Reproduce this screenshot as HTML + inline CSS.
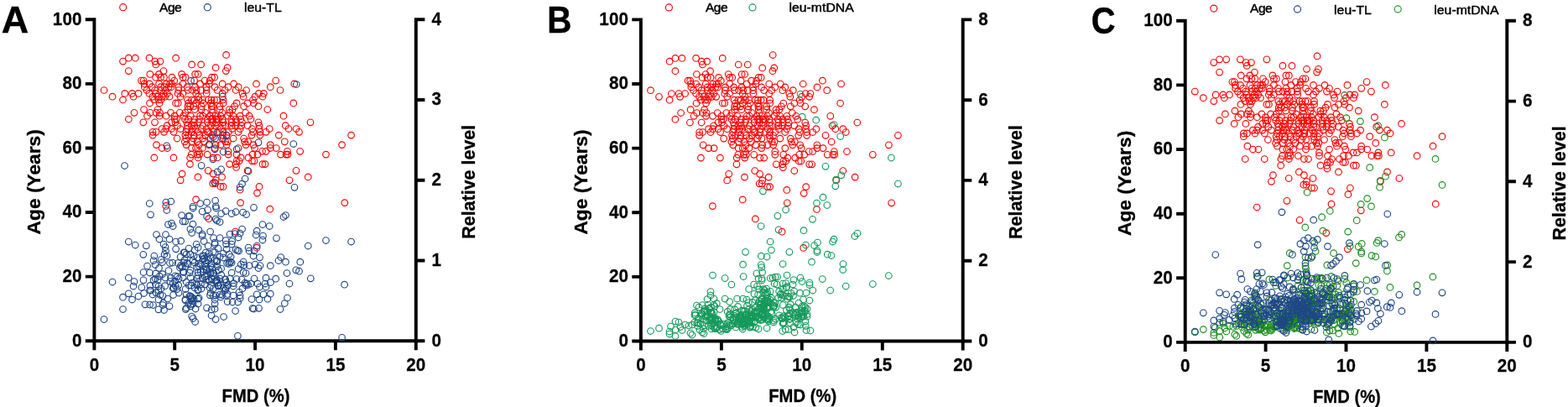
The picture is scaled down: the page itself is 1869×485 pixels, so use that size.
<!DOCTYPE html>
<html lang="en"><head><meta charset="utf-8"><title>Figure</title>
<style>html,body{margin:0;padding:0;background:#fff}body{width:1869px;height:485px;overflow:hidden}svg{display:block}text{font-family:"Liberation Sans",sans-serif;fill:#000}.t{font-size:22.5px;font-weight:bold;stroke:#000;stroke-width:.25px}.ax{font-size:22px;font-weight:bold;stroke:#000;stroke-width:.3px}.lg{font-size:15.5px;stroke:#000;stroke-width:.45px}.pl{font-size:42px;font-weight:bold;stroke:#000;stroke-width:.4px}.l{stroke:#000;stroke-width:3.9;fill:none;stroke-linecap:butt}circle{fill:none;stroke-width:1.15}.r{stroke:#ff0000}.u{stroke:#1f4788}.g{stroke:#159a5c}.h{stroke:#1d8f1f}</style></head><body>
<svg width="1869" height="485" viewBox="0 0 1869 485">
<rect width="1869" height="485" fill="#fff"/>
<g>
<path class="l" d="M112.4 21.3V417.2M101.8 406.2H506.4M495.8 21.3V417.2M101.8 329.6H112.4M101.8 253H112.4M101.8 176.5H112.4M101.8 99.9H112.4M101.8 23.3H112.4M495.8 310.5H506.4M495.8 214.8H506.4M495.8 119H506.4M495.8 23.3H506.4M208.2 406.2V417.2M304.1 406.2V417.2M399.9 406.2V417.2"/>
<circle class="r" cx="269.6" cy="65.4" r="3.8"/><circle class="r" cx="153.3" cy="69.2" r="3.8"/><circle class="r" cx="161.3" cy="69.2" r="3.8"/><circle class="r" cx="178" cy="69.2" r="3.8"/><circle class="r" cx="209.6" cy="69.2" r="3.8"/><circle class="r" cx="146.5" cy="73.1" r="3.8"/><circle class="r" cx="184.8" cy="73.1" r="3.8"/><circle class="r" cx="191" cy="73.1" r="3.8"/><circle class="r" cx="185.8" cy="76.9" r="3.8"/><circle class="r" cx="228.6" cy="76.9" r="3.8"/><circle class="r" cx="239.6" cy="76.9" r="3.8"/><circle class="r" cx="257.1" cy="80.7" r="3.8"/><circle class="r" cx="271.1" cy="80.7" r="3.8"/><circle class="r" cx="153.3" cy="84.6" r="3.8"/><circle class="r" cx="195" cy="84.6" r="3.8"/><circle class="r" cx="269.3" cy="84.6" r="3.8"/><circle class="r" cx="178.8" cy="88.4" r="3.8"/><circle class="r" cx="189.5" cy="88.4" r="3.8"/><circle class="r" cx="216.6" cy="88.4" r="3.8"/><circle class="r" cx="232.6" cy="88.4" r="3.8"/><circle class="r" cx="236.1" cy="88.4" r="3.8"/><circle class="r" cx="185.5" cy="92.2" r="3.8"/><circle class="r" cx="191.5" cy="92.2" r="3.8"/><circle class="r" cx="195.5" cy="92.2" r="3.8"/><circle class="r" cx="205" cy="92.2" r="3.8"/><circle class="r" cx="218.1" cy="92.2" r="3.8"/><circle class="r" cx="221.1" cy="92.2" r="3.8"/><circle class="r" cx="252.6" cy="92.2" r="3.8"/><circle class="r" cx="255.6" cy="92.2" r="3.8"/><circle class="r" cx="168.5" cy="96.1" r="3.8"/><circle class="r" cx="171" cy="96.1" r="3.8"/><circle class="r" cx="207.7" cy="96.1" r="3.8"/><circle class="r" cx="231.6" cy="96.1" r="3.8"/><circle class="r" cx="244.1" cy="96.1" r="3.8"/><circle class="r" cx="250.1" cy="96.1" r="3.8"/><circle class="r" cx="328.7" cy="96.1" r="3.8"/><circle class="r" cx="172" cy="99.9" r="3.8"/><circle class="r" cx="178.2" cy="99.9" r="3.8"/><circle class="r" cx="189.6" cy="99.9" r="3.8"/><circle class="r" cx="198.4" cy="99.9" r="3.8"/><circle class="r" cx="202.5" cy="99.9" r="3.8"/><circle class="r" cx="204.7" cy="99.9" r="3.8"/><circle class="r" cx="218.1" cy="99.9" r="3.8"/><circle class="r" cx="238.5" cy="99.9" r="3.8"/><circle class="r" cx="249.2" cy="99.9" r="3.8"/><circle class="r" cx="265.1" cy="99.9" r="3.8"/><circle class="r" cx="278.6" cy="99.9" r="3.8"/><circle class="r" cx="305.5" cy="99.9" r="3.8"/><circle class="r" cx="350.8" cy="99.9" r="3.8"/><circle class="r" cx="172.3" cy="103.7" r="3.8"/><circle class="r" cx="181.2" cy="103.7" r="3.8"/><circle class="r" cx="191.6" cy="103.7" r="3.8"/><circle class="r" cx="195.9" cy="103.7" r="3.8"/><circle class="r" cx="201.1" cy="103.7" r="3.8"/><circle class="r" cx="204" cy="103.7" r="3.8"/><circle class="r" cx="213.1" cy="103.7" r="3.8"/><circle class="r" cx="223.1" cy="103.7" r="3.8"/><circle class="r" cx="232.5" cy="103.7" r="3.8"/><circle class="r" cx="246" cy="103.7" r="3.8"/><circle class="r" cx="256.1" cy="103.7" r="3.8"/><circle class="r" cx="272.1" cy="103.7" r="3.8"/><circle class="r" cx="284.1" cy="103.7" r="3.8"/><circle class="r" cx="322.3" cy="103.7" r="3.8"/><circle class="r" cx="124" cy="107.5" r="3.8"/><circle class="r" cx="175" cy="107.5" r="3.8"/><circle class="r" cx="184.5" cy="107.5" r="3.8"/><circle class="r" cx="192.2" cy="107.5" r="3.8"/><circle class="r" cx="197.1" cy="107.5" r="3.8"/><circle class="r" cx="212.8" cy="107.5" r="3.8"/><circle class="r" cx="224.1" cy="107.5" r="3.8"/><circle class="r" cx="229.1" cy="107.5" r="3.8"/><circle class="r" cx="234.1" cy="107.5" r="3.8"/><circle class="r" cx="239.6" cy="107.5" r="3.8"/><circle class="r" cx="246.1" cy="107.5" r="3.8"/><circle class="r" cx="259.1" cy="107.5" r="3.8"/><circle class="r" cx="268.1" cy="107.5" r="3.8"/><circle class="r" cx="281.1" cy="107.5" r="3.8"/><circle class="r" cx="293.6" cy="107.5" r="3.8"/><circle class="r" cx="334" cy="107.5" r="3.8"/><circle class="r" cx="148.8" cy="111.4" r="3.8"/><circle class="r" cx="157.5" cy="111.4" r="3.8"/><circle class="r" cx="165" cy="111.4" r="3.8"/><circle class="r" cx="178" cy="111.4" r="3.8"/><circle class="r" cx="185.6" cy="111.4" r="3.8"/><circle class="r" cx="194.9" cy="111.4" r="3.8"/><circle class="r" cx="199.3" cy="111.4" r="3.8"/><circle class="r" cx="212.1" cy="111.4" r="3.8"/><circle class="r" cx="217.9" cy="111.4" r="3.8"/><circle class="r" cx="233.6" cy="111.4" r="3.8"/><circle class="r" cx="246.2" cy="111.4" r="3.8"/><circle class="r" cx="265.1" cy="111.4" r="3.8"/><circle class="r" cx="289.1" cy="111.4" r="3.8"/><circle class="r" cx="308.5" cy="111.4" r="3.8"/><circle class="r" cx="314.3" cy="111.4" r="3.8"/><circle class="r" cx="134" cy="115.2" r="3.8"/><circle class="r" cx="159" cy="115.2" r="3.8"/><circle class="r" cx="182" cy="115.2" r="3.8"/><circle class="r" cx="187.7" cy="115.2" r="3.8"/><circle class="r" cx="193.3" cy="115.2" r="3.8"/><circle class="r" cx="196.7" cy="115.2" r="3.8"/><circle class="r" cx="202" cy="115.2" r="3.8"/><circle class="r" cx="215.1" cy="115.2" r="3.8"/><circle class="r" cx="236.4" cy="115.2" r="3.8"/><circle class="r" cx="290.1" cy="115.2" r="3.8"/><circle class="r" cx="304" cy="115.2" r="3.8"/><circle class="r" cx="313" cy="115.2" r="3.8"/><circle class="r" cx="146.5" cy="119" r="3.8"/><circle class="r" cx="183.7" cy="119" r="3.8"/><circle class="r" cx="189" cy="119" r="3.8"/><circle class="r" cx="191.9" cy="119" r="3.8"/><circle class="r" cx="223.5" cy="119" r="3.8"/><circle class="r" cx="228.3" cy="119" r="3.8"/><circle class="r" cx="231.8" cy="119" r="3.8"/><circle class="r" cx="236.9" cy="119" r="3.8"/><circle class="r" cx="241.2" cy="119" r="3.8"/><circle class="r" cx="248.6" cy="119" r="3.8"/><circle class="r" cx="251.9" cy="119" r="3.8"/><circle class="r" cx="255.5" cy="119" r="3.8"/><circle class="r" cx="258.4" cy="119" r="3.8"/><circle class="r" cx="266.1" cy="119" r="3.8"/><circle class="r" cx="301.5" cy="119" r="3.8"/><circle class="r" cx="178.5" cy="122.9" r="3.8"/><circle class="r" cx="190.1" cy="122.9" r="3.8"/><circle class="r" cx="209.6" cy="122.9" r="3.8"/><circle class="r" cx="212.1" cy="122.9" r="3.8"/><circle class="r" cx="224.7" cy="122.9" r="3.8"/><circle class="r" cx="233.6" cy="122.9" r="3.8"/><circle class="r" cx="242.3" cy="122.9" r="3.8"/><circle class="r" cx="251.3" cy="122.9" r="3.8"/><circle class="r" cx="266.1" cy="122.9" r="3.8"/><circle class="r" cx="282.1" cy="122.9" r="3.8"/><circle class="r" cx="295.1" cy="122.9" r="3.8"/><circle class="r" cx="302.5" cy="122.9" r="3.8"/><circle class="r" cx="349.8" cy="122.9" r="3.8"/><circle class="r" cx="223.9" cy="126.7" r="3.8"/><circle class="r" cx="226.6" cy="126.7" r="3.8"/><circle class="r" cx="230.9" cy="126.7" r="3.8"/><circle class="r" cx="240.2" cy="126.7" r="3.8"/><circle class="r" cx="252.1" cy="126.7" r="3.8"/><circle class="r" cx="253.6" cy="126.7" r="3.8"/><circle class="r" cx="262.1" cy="126.7" r="3.8"/><circle class="r" cx="279.6" cy="126.7" r="3.8"/><circle class="r" cx="290.6" cy="126.7" r="3.8"/><circle class="r" cx="308" cy="126.7" r="3.8"/><circle class="r" cx="171.5" cy="130.5" r="3.8"/><circle class="r" cx="188" cy="130.5" r="3.8"/><circle class="r" cx="224" cy="130.5" r="3.8"/><circle class="r" cx="232.2" cy="130.5" r="3.8"/><circle class="r" cx="240.1" cy="130.5" r="3.8"/><circle class="r" cx="252.6" cy="130.5" r="3.8"/><circle class="r" cx="262.1" cy="130.5" r="3.8"/><circle class="r" cx="273.4" cy="130.5" r="3.8"/><circle class="r" cx="277.1" cy="130.5" r="3.8"/><circle class="r" cx="318.8" cy="130.5" r="3.8"/><circle class="r" cx="160" cy="134.3" r="3.8"/><circle class="r" cx="179" cy="134.3" r="3.8"/><circle class="r" cx="186" cy="134.3" r="3.8"/><circle class="r" cx="190.5" cy="134.3" r="3.8"/><circle class="r" cx="203.5" cy="134.3" r="3.8"/><circle class="r" cx="214.3" cy="134.3" r="3.8"/><circle class="r" cx="220.7" cy="134.3" r="3.8"/><circle class="r" cx="244.6" cy="134.3" r="3.8"/><circle class="r" cx="253.6" cy="134.3" r="3.8"/><circle class="r" cx="264.8" cy="134.3" r="3.8"/><circle class="r" cx="273.9" cy="134.3" r="3.8"/><circle class="r" cx="292.6" cy="134.3" r="3.8"/><circle class="r" cx="175.5" cy="138.2" r="3.8"/><circle class="r" cx="190" cy="138.2" r="3.8"/><circle class="r" cx="198" cy="138.2" r="3.8"/><circle class="r" cx="208.1" cy="138.2" r="3.8"/><circle class="r" cx="218.7" cy="138.2" r="3.8"/><circle class="r" cx="227.2" cy="138.2" r="3.8"/><circle class="r" cx="238.6" cy="138.2" r="3.8"/><circle class="r" cx="241.8" cy="138.2" r="3.8"/><circle class="r" cx="250" cy="138.2" r="3.8"/><circle class="r" cx="256.8" cy="138.2" r="3.8"/><circle class="r" cx="263" cy="138.2" r="3.8"/><circle class="r" cx="271.4" cy="138.2" r="3.8"/><circle class="r" cx="277.9" cy="138.2" r="3.8"/><circle class="r" cx="286.1" cy="138.2" r="3.8"/><circle class="r" cx="297.1" cy="138.2" r="3.8"/><circle class="r" cx="338" cy="138.2" r="3.8"/><circle class="r" cx="153.3" cy="142" r="3.8"/><circle class="r" cx="208.2" cy="142" r="3.8"/><circle class="r" cx="210.6" cy="142" r="3.8"/><circle class="r" cx="220.4" cy="142" r="3.8"/><circle class="r" cx="224.6" cy="142" r="3.8"/><circle class="r" cx="231.8" cy="142" r="3.8"/><circle class="r" cx="237.5" cy="142" r="3.8"/><circle class="r" cx="247.3" cy="142" r="3.8"/><circle class="r" cx="251.6" cy="142" r="3.8"/><circle class="r" cx="253.1" cy="142" r="3.8"/><circle class="r" cx="257.7" cy="142" r="3.8"/><circle class="r" cx="258.5" cy="142" r="3.8"/><circle class="r" cx="260.7" cy="142" r="3.8"/><circle class="r" cx="265.4" cy="142" r="3.8"/><circle class="r" cx="275.6" cy="142" r="3.8"/><circle class="r" cx="281.1" cy="142" r="3.8"/><circle class="r" cx="286.8" cy="142" r="3.8"/><circle class="r" cx="299" cy="142" r="3.8"/><circle class="r" cx="170.8" cy="145.8" r="3.8"/><circle class="r" cx="184.5" cy="145.8" r="3.8"/><circle class="r" cx="204.4" cy="145.8" r="3.8"/><circle class="r" cx="209" cy="145.8" r="3.8"/><circle class="r" cx="222.6" cy="145.8" r="3.8"/><circle class="r" cx="231.2" cy="145.8" r="3.8"/><circle class="r" cx="236.5" cy="145.8" r="3.8"/><circle class="r" cx="247.5" cy="145.8" r="3.8"/><circle class="r" cx="253.3" cy="145.8" r="3.8"/><circle class="r" cx="257.7" cy="145.8" r="3.8"/><circle class="r" cx="266" cy="145.8" r="3.8"/><circle class="r" cx="276.2" cy="145.8" r="3.8"/><circle class="r" cx="281.6" cy="145.8" r="3.8"/><circle class="r" cx="288.4" cy="145.8" r="3.8"/><circle class="r" cx="308" cy="145.8" r="3.8"/><circle class="r" cx="370" cy="145.8" r="3.8"/><circle class="r" cx="199.2" cy="149.7" r="3.8"/><circle class="r" cx="211.4" cy="149.7" r="3.8"/><circle class="r" cx="223.5" cy="149.7" r="3.8"/><circle class="r" cx="228.1" cy="149.7" r="3.8"/><circle class="r" cx="231.8" cy="149.7" r="3.8"/><circle class="r" cx="241.8" cy="149.7" r="3.8"/><circle class="r" cx="251.2" cy="149.7" r="3.8"/><circle class="r" cx="256.4" cy="149.7" r="3.8"/><circle class="r" cx="265.6" cy="149.7" r="3.8"/><circle class="r" cx="268.2" cy="149.7" r="3.8"/><circle class="r" cx="276.2" cy="149.7" r="3.8"/><circle class="r" cx="280.5" cy="149.7" r="3.8"/><circle class="r" cx="287.8" cy="149.7" r="3.8"/><circle class="r" cx="295.1" cy="149.7" r="3.8"/><circle class="r" cx="309" cy="149.7" r="3.8"/><circle class="r" cx="340.3" cy="149.7" r="3.8"/><circle class="r" cx="193" cy="153.5" r="3.8"/><circle class="r" cx="198" cy="153.5" r="3.8"/><circle class="r" cx="204.3" cy="153.5" r="3.8"/><circle class="r" cx="215" cy="153.5" r="3.8"/><circle class="r" cx="223.4" cy="153.5" r="3.8"/><circle class="r" cx="229.5" cy="153.5" r="3.8"/><circle class="r" cx="232.7" cy="153.5" r="3.8"/><circle class="r" cx="240.5" cy="153.5" r="3.8"/><circle class="r" cx="246" cy="153.5" r="3.8"/><circle class="r" cx="254.6" cy="153.5" r="3.8"/><circle class="r" cx="263.6" cy="153.5" r="3.8"/><circle class="r" cx="276.7" cy="153.5" r="3.8"/><circle class="r" cx="286.1" cy="153.5" r="3.8"/><circle class="r" cx="300.5" cy="153.5" r="3.8"/><circle class="r" cx="308.8" cy="153.5" r="3.8"/><circle class="r" cx="321.2" cy="153.5" r="3.8"/><circle class="r" cx="344" cy="153.5" r="3.8"/><circle class="r" cx="353" cy="153.5" r="3.8"/><circle class="r" cx="182" cy="157.3" r="3.8"/><circle class="r" cx="186" cy="157.3" r="3.8"/><circle class="r" cx="195.5" cy="157.3" r="3.8"/><circle class="r" cx="207.1" cy="157.3" r="3.8"/><circle class="r" cx="222" cy="157.3" r="3.8"/><circle class="r" cx="228.2" cy="157.3" r="3.8"/><circle class="r" cx="236.1" cy="157.3" r="3.8"/><circle class="r" cx="247.1" cy="157.3" r="3.8"/><circle class="r" cx="248.8" cy="157.3" r="3.8"/><circle class="r" cx="254.4" cy="157.3" r="3.8"/><circle class="r" cx="260.9" cy="157.3" r="3.8"/><circle class="r" cx="266" cy="157.3" r="3.8"/><circle class="r" cx="272.2" cy="157.3" r="3.8"/><circle class="r" cx="284" cy="157.3" r="3.8"/><circle class="r" cx="301.6" cy="157.3" r="3.8"/><circle class="r" cx="310" cy="157.3" r="3.8"/><circle class="r" cx="317" cy="157.3" r="3.8"/><circle class="r" cx="356.5" cy="157.3" r="3.8"/><circle class="r" cx="182" cy="161.1" r="3.8"/><circle class="r" cx="220.9" cy="161.1" r="3.8"/><circle class="r" cx="224.9" cy="161.1" r="3.8"/><circle class="r" cx="231.2" cy="161.1" r="3.8"/><circle class="r" cx="237.9" cy="161.1" r="3.8"/><circle class="r" cx="244.6" cy="161.1" r="3.8"/><circle class="r" cx="252.8" cy="161.1" r="3.8"/><circle class="r" cx="265.3" cy="161.1" r="3.8"/><circle class="r" cx="270" cy="161.1" r="3.8"/><circle class="r" cx="300" cy="161.1" r="3.8"/><circle class="r" cx="310" cy="161.1" r="3.8"/><circle class="r" cx="332.3" cy="161.1" r="3.8"/><circle class="r" cx="418.6" cy="161.1" r="3.8"/><circle class="r" cx="211.1" cy="165" r="3.8"/><circle class="r" cx="221.7" cy="165" r="3.8"/><circle class="r" cx="230.5" cy="165" r="3.8"/><circle class="r" cx="241.7" cy="165" r="3.8"/><circle class="r" cx="251.1" cy="165" r="3.8"/><circle class="r" cx="256.4" cy="165" r="3.8"/><circle class="r" cx="266.2" cy="165" r="3.8"/><circle class="r" cx="278.1" cy="165" r="3.8"/><circle class="r" cx="290.6" cy="165" r="3.8"/><circle class="r" cx="220.3" cy="168.8" r="3.8"/><circle class="r" cx="229" cy="168.8" r="3.8"/><circle class="r" cx="235" cy="168.8" r="3.8"/><circle class="r" cx="243.6" cy="168.8" r="3.8"/><circle class="r" cx="268.6" cy="168.8" r="3.8"/><circle class="r" cx="271.4" cy="168.8" r="3.8"/><circle class="r" cx="291.6" cy="168.8" r="3.8"/><circle class="r" cx="295.6" cy="168.8" r="3.8"/><circle class="r" cx="339.3" cy="168.8" r="3.8"/><circle class="r" cx="186.5" cy="172.6" r="3.8"/><circle class="r" cx="222.1" cy="172.6" r="3.8"/><circle class="r" cx="237.2" cy="172.6" r="3.8"/><circle class="r" cx="249.1" cy="172.6" r="3.8"/><circle class="r" cx="257.1" cy="172.6" r="3.8"/><circle class="r" cx="263" cy="172.6" r="3.8"/><circle class="r" cx="270.1" cy="172.6" r="3.8"/><circle class="r" cx="293.1" cy="172.6" r="3.8"/><circle class="r" cx="302" cy="172.6" r="3.8"/><circle class="r" cx="322.2" cy="172.6" r="3.8"/><circle class="r" cx="407.6" cy="172.6" r="3.8"/><circle class="r" cx="193" cy="176.5" r="3.8"/><circle class="r" cx="199.5" cy="176.5" r="3.8"/><circle class="r" cx="228.5" cy="176.5" r="3.8"/><circle class="r" cx="233.5" cy="176.5" r="3.8"/><circle class="r" cx="241.3" cy="176.5" r="3.8"/><circle class="r" cx="256.1" cy="176.5" r="3.8"/><circle class="r" cx="284.1" cy="176.5" r="3.8"/><circle class="r" cx="303.5" cy="176.5" r="3.8"/><circle class="r" cx="322.2" cy="176.5" r="3.8"/><circle class="r" cx="329.3" cy="176.5" r="3.8"/><circle class="r" cx="236.9" cy="180.3" r="3.8"/><circle class="r" cx="272.1" cy="180.3" r="3.8"/><circle class="r" cx="312.5" cy="180.3" r="3.8"/><circle class="r" cx="317" cy="180.3" r="3.8"/><circle class="r" cx="342.5" cy="180.3" r="3.8"/><circle class="r" cx="357.7" cy="180.3" r="3.8"/><circle class="r" cx="228.2" cy="184.1" r="3.8"/><circle class="r" cx="234.9" cy="184.1" r="3.8"/><circle class="r" cx="237.7" cy="184.1" r="3.8"/><circle class="r" cx="247.1" cy="184.1" r="3.8"/><circle class="r" cx="272.1" cy="184.1" r="3.8"/><circle class="r" cx="282.1" cy="184.1" r="3.8"/><circle class="r" cx="301" cy="184.1" r="3.8"/><circle class="r" cx="307" cy="184.1" r="3.8"/><circle class="r" cx="334.5" cy="184.1" r="3.8"/><circle class="r" cx="341" cy="184.1" r="3.8"/><circle class="r" cx="343" cy="184.1" r="3.8"/><circle class="r" cx="388.5" cy="184.1" r="3.8"/><circle class="r" cx="183.8" cy="187.9" r="3.8"/><circle class="r" cx="206.9" cy="187.9" r="3.8"/><circle class="r" cx="226.6" cy="187.9" r="3.8"/><circle class="r" cx="236.1" cy="187.9" r="3.8"/><circle class="r" cx="254.1" cy="187.9" r="3.8"/><circle class="r" cx="259.1" cy="187.9" r="3.8"/><circle class="r" cx="287.1" cy="187.9" r="3.8"/><circle class="r" cx="296.1" cy="187.9" r="3.8"/><circle class="r" cx="282.1" cy="191.8" r="3.8"/><circle class="r" cx="285.1" cy="191.8" r="3.8"/><circle class="r" cx="300.5" cy="191.8" r="3.8"/><circle class="r" cx="303" cy="191.8" r="3.8"/><circle class="r" cx="226.4" cy="195.6" r="3.8"/><circle class="r" cx="273.6" cy="195.6" r="3.8"/><circle class="r" cx="281.1" cy="195.6" r="3.8"/><circle class="r" cx="313" cy="195.6" r="3.8"/><circle class="r" cx="316" cy="195.6" r="3.8"/><circle class="r" cx="281.6" cy="199.4" r="3.8"/><circle class="r" cx="248.1" cy="203.3" r="3.8"/><circle class="r" cx="295.1" cy="203.3" r="3.8"/><circle class="r" cx="353" cy="203.3" r="3.8"/><circle class="r" cx="217.1" cy="207.1" r="3.8"/><circle class="r" cx="254.1" cy="207.1" r="3.8"/><circle class="r" cx="235.9" cy="210.9" r="3.8"/><circle class="r" cx="264.6" cy="210.9" r="3.8"/><circle class="r" cx="367.3" cy="210.9" r="3.8"/><circle class="r" cx="215.1" cy="214.8" r="3.8"/><circle class="r" cx="257.1" cy="214.8" r="3.8"/><circle class="r" cx="345" cy="214.8" r="3.8"/><circle class="r" cx="253.6" cy="218.6" r="3.8"/><circle class="r" cx="256.6" cy="218.6" r="3.8"/><circle class="r" cx="263.1" cy="222.4" r="3.8"/><circle class="r" cx="266.1" cy="222.4" r="3.8"/><circle class="r" cx="309" cy="222.4" r="3.8"/><circle class="r" cx="286.1" cy="226.2" r="3.8"/><circle class="r" cx="306.5" cy="230.1" r="3.8"/><circle class="r" cx="233.6" cy="237.7" r="3.8"/><circle class="r" cx="286.6" cy="241.6" r="3.8"/><circle class="r" cx="410.8" cy="241.6" r="3.8"/><circle class="r" cx="197.8" cy="245.4" r="3.8"/><circle class="r" cx="321.8" cy="249.2" r="3.8"/><circle class="r" cx="248.8" cy="260.7" r="3.8"/><circle class="r" cx="280.4" cy="276" r="3.8"/><circle class="r" cx="306" cy="295.2" r="3.8"/>
<circle class="u" cx="227.6" cy="96.3" r="3.8"/><circle class="u" cx="265.3" cy="115" r="3.8"/><circle class="u" cx="353.3" cy="100.5" r="3.8"/><circle class="u" cx="258.8" cy="157.8" r="3.8"/><circle class="u" cx="269.9" cy="161.3" r="3.8"/><circle class="u" cx="254.1" cy="163.5" r="3.8"/><circle class="u" cx="264.6" cy="165" r="3.8"/><circle class="u" cx="249.6" cy="171.8" r="3.8"/><circle class="u" cx="198.8" cy="173.8" r="3.8"/><circle class="u" cx="308" cy="169.8" r="3.8"/><circle class="u" cx="349.8" cy="171.5" r="3.8"/><circle class="u" cx="148.5" cy="197.5" r="3.8"/><circle class="u" cx="256.1" cy="177.8" r="3.8"/><circle class="u" cx="266.1" cy="181" r="3.8"/><circle class="u" cx="282.1" cy="177.8" r="3.8"/><circle class="u" cx="253.9" cy="189.8" r="3.8"/><circle class="u" cx="240.1" cy="197.3" r="3.8"/><circle class="u" cx="263.6" cy="201.8" r="3.8"/><circle class="u" cx="259.1" cy="204.8" r="3.8"/><circle class="u" cx="296.1" cy="204" r="3.8"/><circle class="u" cx="292.1" cy="213" r="3.8"/><circle class="u" cx="255.6" cy="217.3" r="3.8"/><circle class="u" cx="288.6" cy="219" r="3.8"/><circle class="u" cx="286.1" cy="223" r="3.8"/><circle class="u" cx="178.2" cy="242.5" r="3.8"/><circle class="u" cx="197.8" cy="241" r="3.8"/><circle class="u" cx="203.8" cy="240" r="3.8"/><circle class="u" cx="198.8" cy="250.5" r="3.8"/><circle class="u" cx="230.1" cy="246" r="3.8"/><circle class="u" cx="238.6" cy="242.5" r="3.8"/><circle class="u" cx="246.6" cy="241" r="3.8"/><circle class="u" cx="256.6" cy="239" r="3.8"/><circle class="u" cx="257.3" cy="245.8" r="3.8"/><circle class="u" cx="247.6" cy="250" r="3.8"/><circle class="u" cx="241.1" cy="252" r="3.8"/><circle class="u" cx="351" cy="223.3" r="3.8"/><circle class="u" cx="302.5" cy="247.3" r="3.8"/><circle class="u" cx="179.5" cy="255.8" r="3.8"/><circle class="u" cx="230.1" cy="248" r="3.8"/><circle class="u" cx="257.6" cy="248" r="3.8"/><circle class="u" cx="263.6" cy="254.5" r="3.8"/><circle class="u" cx="269.1" cy="251.5" r="3.8"/><circle class="u" cx="276.1" cy="254.5" r="3.8"/><circle class="u" cx="281.1" cy="252.5" r="3.8"/><circle class="u" cx="289.6" cy="253" r="3.8"/><circle class="u" cx="293.6" cy="255.5" r="3.8"/><circle class="u" cx="216.6" cy="256.5" r="3.8"/><circle class="u" cx="224.6" cy="257.5" r="3.8"/><circle class="u" cx="226.1" cy="257.5" r="3.8"/><circle class="u" cx="246.6" cy="258" r="3.8"/><circle class="u" cx="257.1" cy="261" r="3.8"/><circle class="u" cx="258.6" cy="263" r="3.8"/><circle class="u" cx="262.1" cy="264.5" r="3.8"/><circle class="u" cx="218.1" cy="263.8" r="3.8"/><circle class="u" cx="220.6" cy="263.8" r="3.8"/><circle class="u" cx="229.9" cy="267.2" r="3.8"/><circle class="u" cx="200.5" cy="267.5" r="3.8"/><circle class="u" cx="204.5" cy="266" r="3.8"/><circle class="u" cx="206.1" cy="269.5" r="3.8"/><circle class="u" cx="226.9" cy="273" r="3.8"/><circle class="u" cx="228.6" cy="277.5" r="3.8"/><circle class="u" cx="236.9" cy="274.2" r="3.8"/><circle class="u" cx="241.1" cy="279" r="3.8"/><circle class="u" cx="241.1" cy="281" r="3.8"/><circle class="u" cx="250.6" cy="276" r="3.8"/><circle class="u" cx="288.6" cy="273" r="3.8"/><circle class="u" cx="274.1" cy="279" r="3.8"/><circle class="u" cx="280.1" cy="278.5" r="3.8"/><circle class="u" cx="286.1" cy="278" r="3.8"/><circle class="u" cx="284.1" cy="283" r="3.8"/><circle class="u" cx="186.5" cy="279.5" r="3.8"/><circle class="u" cx="197.5" cy="279.5" r="3.8"/><circle class="u" cx="190" cy="285" r="3.8"/><circle class="u" cx="202" cy="285" r="3.8"/><circle class="u" cx="209.6" cy="288" r="3.8"/><circle class="u" cx="215.6" cy="287.2" r="3.8"/><circle class="u" cx="243.1" cy="287.5" r="3.8"/><circle class="u" cx="254.6" cy="283.5" r="3.8"/><circle class="u" cx="262.1" cy="283.5" r="3.8"/><circle class="u" cx="256.1" cy="289" r="3.8"/><circle class="u" cx="269.1" cy="286.5" r="3.8"/><circle class="u" cx="276.6" cy="287.5" r="3.8"/><circle class="u" cx="338" cy="258.5" r="3.8"/><circle class="u" cx="340.5" cy="256.5" r="3.8"/><circle class="u" cx="313" cy="267.5" r="3.8"/><circle class="u" cx="321.2" cy="269.5" r="3.8"/><circle class="u" cx="306.2" cy="275.2" r="3.8"/><circle class="u" cx="305.2" cy="280" r="3.8"/><circle class="u" cx="313.5" cy="281" r="3.8"/><circle class="u" cx="313" cy="286" r="3.8"/><circle class="u" cx="329.5" cy="283.8" r="3.8"/><circle class="u" cx="388.5" cy="286.5" r="3.8"/><circle class="u" cx="418.6" cy="288" r="3.8"/><circle class="u" cx="153.3" cy="288" r="3.8"/><circle class="u" cx="161.3" cy="292" r="3.8"/><circle class="u" cx="174.3" cy="292.8" r="3.8"/><circle class="u" cx="170.8" cy="303.3" r="3.8"/><circle class="u" cx="175.5" cy="317" r="3.8"/><circle class="u" cx="171" cy="324.5" r="3.8"/><circle class="u" cx="178.5" cy="325" r="3.8"/><circle class="u" cx="153.3" cy="331" r="3.8"/><circle class="u" cx="183.8" cy="305" r="3.8"/><circle class="u" cx="183" cy="310.5" r="3.8"/><circle class="u" cx="185" cy="315.5" r="3.8"/><circle class="u" cx="189.5" cy="319.5" r="3.8"/><circle class="u" cx="185.5" cy="326" r="3.8"/><circle class="u" cx="195" cy="291" r="3.8"/><circle class="u" cx="197" cy="294.5" r="3.8"/><circle class="u" cx="197.5" cy="299" r="3.8"/><circle class="u" cx="196" cy="303" r="3.8"/><circle class="u" cx="199" cy="305" r="3.8"/><circle class="u" cx="192" cy="309.5" r="3.8"/><circle class="u" cx="193.5" cy="312.5" r="3.8"/><circle class="u" cx="209.6" cy="296.8" r="3.8"/><circle class="u" cx="202.5" cy="313.5" r="3.8"/><circle class="u" cx="205.6" cy="313" r="3.8"/><circle class="u" cx="201" cy="322.5" r="3.8"/><circle class="u" cx="234.1" cy="291" r="3.8"/><circle class="u" cx="248.1" cy="293" r="3.8"/><circle class="u" cx="256.1" cy="291" r="3.8"/><circle class="u" cx="269.6" cy="291" r="3.8"/><circle class="u" cx="276.1" cy="291" r="3.8"/><circle class="u" cx="225.1" cy="296" r="3.8"/><circle class="u" cx="232.1" cy="298" r="3.8"/><circle class="u" cx="236.1" cy="295" r="3.8"/><circle class="u" cx="260.1" cy="296" r="3.8"/><circle class="u" cx="270.1" cy="297" r="3.8"/><circle class="u" cx="281.1" cy="297.5" r="3.8"/><circle class="u" cx="283.1" cy="298.5" r="3.8"/><circle class="u" cx="284.6" cy="299" r="3.8"/><circle class="u" cx="296.1" cy="295" r="3.8"/><circle class="u" cx="297.1" cy="299" r="3.8"/><circle class="u" cx="220.1" cy="301" r="3.8"/><circle class="u" cx="222.1" cy="303" r="3.8"/><circle class="u" cx="245.1" cy="301" r="3.8"/><circle class="u" cx="249.1" cy="302" r="3.8"/><circle class="u" cx="254.1" cy="300" r="3.8"/><circle class="u" cx="266.1" cy="302" r="3.8"/><circle class="u" cx="273.1" cy="303" r="3.8"/><circle class="u" cx="215.1" cy="306" r="3.8"/><circle class="u" cx="231.1" cy="305" r="3.8"/><circle class="u" cx="235.1" cy="307" r="3.8"/><circle class="u" cx="241.1" cy="305" r="3.8"/><circle class="u" cx="247.1" cy="306" r="3.8"/><circle class="u" cx="262.1" cy="306" r="3.8"/><circle class="u" cx="266.1" cy="307" r="3.8"/><circle class="u" cx="275.1" cy="306" r="3.8"/><circle class="u" cx="220.1" cy="309.5" r="3.8"/><circle class="u" cx="230.1" cy="310" r="3.8"/><circle class="u" cx="242.1" cy="309" r="3.8"/><circle class="u" cx="248.1" cy="310.5" r="3.8"/><circle class="u" cx="256.1" cy="309.5" r="3.8"/><circle class="u" cx="212.1" cy="313.5" r="3.8"/><circle class="u" cx="219.1" cy="313" r="3.8"/><circle class="u" cx="224.1" cy="314.5" r="3.8"/><circle class="u" cx="232.1" cy="313" r="3.8"/><circle class="u" cx="237.1" cy="314" r="3.8"/><circle class="u" cx="246.1" cy="313" r="3.8"/><circle class="u" cx="252.1" cy="314" r="3.8"/><circle class="u" cx="273.1" cy="312.5" r="3.8"/><circle class="u" cx="276.1" cy="313" r="3.8"/><circle class="u" cx="290.1" cy="312" r="3.8"/><circle class="u" cx="221.1" cy="317.5" r="3.8"/><circle class="u" cx="237.1" cy="317" r="3.8"/><circle class="u" cx="245.1" cy="318" r="3.8"/><circle class="u" cx="251.1" cy="317" r="3.8"/><circle class="u" cx="291.1" cy="316" r="3.8"/><circle class="u" cx="297.1" cy="316.5" r="3.8"/><circle class="u" cx="246.1" cy="320.5" r="3.8"/><circle class="u" cx="250.1" cy="321" r="3.8"/><circle class="u" cx="263.6" cy="320" r="3.8"/><circle class="u" cx="284.1" cy="320.5" r="3.8"/><circle class="u" cx="218.1" cy="324" r="3.8"/><circle class="u" cx="226.1" cy="325" r="3.8"/><circle class="u" cx="236.1" cy="324.5" r="3.8"/><circle class="u" cx="242.1" cy="324" r="3.8"/><circle class="u" cx="251.1" cy="324.5" r="3.8"/><circle class="u" cx="276.1" cy="325" r="3.8"/><circle class="u" cx="290.1" cy="324.5" r="3.8"/><circle class="u" cx="293.1" cy="325.5" r="3.8"/><circle class="u" cx="367.3" cy="293" r="3.8"/><circle class="u" cx="306.2" cy="293" r="3.8"/><circle class="u" cx="303" cy="299" r="3.8"/><circle class="u" cx="302" cy="305" r="3.8"/><circle class="u" cx="309.5" cy="306.8" r="3.8"/><circle class="u" cx="334.8" cy="306.5" r="3.8"/><circle class="u" cx="332" cy="310.5" r="3.8"/><circle class="u" cx="340.5" cy="312.2" r="3.8"/><circle class="u" cx="357.8" cy="312.2" r="3.8"/><circle class="u" cx="304" cy="315" r="3.8"/><circle class="u" cx="310" cy="316.5" r="3.8"/><circle class="u" cx="308" cy="319.5" r="3.8"/><circle class="u" cx="322.3" cy="316.7" r="3.8"/><circle class="u" cx="352.8" cy="321.8" r="3.8"/><circle class="u" cx="356.5" cy="323.2" r="3.8"/><circle class="u" cx="342" cy="325.5" r="3.8"/><circle class="u" cx="134" cy="336" r="3.8"/><circle class="u" cx="160" cy="335.5" r="3.8"/><circle class="u" cx="171" cy="333.8" r="3.8"/><circle class="u" cx="159" cy="341" r="3.8"/><circle class="u" cx="168.8" cy="342.5" r="3.8"/><circle class="u" cx="153.3" cy="349.8" r="3.8"/><circle class="u" cx="146.5" cy="354.2" r="3.8"/><circle class="u" cx="157.5" cy="357" r="3.8"/><circle class="u" cx="165" cy="353" r="3.8"/><circle class="u" cx="171.5" cy="349.5" r="3.8"/><circle class="u" cx="178.5" cy="346" r="3.8"/><circle class="u" cx="182" cy="351" r="3.8"/><circle class="u" cx="146.5" cy="368.5" r="3.8"/><circle class="u" cx="173" cy="362.8" r="3.8"/><circle class="u" cx="178.5" cy="363" r="3.8"/><circle class="u" cx="182.5" cy="363.5" r="3.8"/><circle class="u" cx="189" cy="368.8" r="3.8"/><circle class="u" cx="195.5" cy="369.5" r="3.8"/><circle class="u" cx="202" cy="364.8" r="3.8"/><circle class="u" cx="200" cy="356" r="3.8"/><circle class="u" cx="206.6" cy="351.5" r="3.8"/><circle class="u" cx="213.1" cy="349" r="3.8"/><circle class="u" cx="185" cy="332" r="3.8"/><circle class="u" cx="185.5" cy="339" r="3.8"/><circle class="u" cx="189" cy="341" r="3.8"/><circle class="u" cx="192" cy="344" r="3.8"/><circle class="u" cx="189" cy="346" r="3.8"/><circle class="u" cx="191" cy="351.5" r="3.8"/><circle class="u" cx="194" cy="352.5" r="3.8"/><circle class="u" cx="189" cy="357" r="3.8"/><circle class="u" cx="194.5" cy="361" r="3.8"/><circle class="u" cx="194" cy="363.5" r="3.8"/><circle class="u" cx="197" cy="331" r="3.8"/><circle class="u" cx="203" cy="335.5" r="3.8"/><circle class="u" cx="206.1" cy="338" r="3.8"/><circle class="u" cx="208.6" cy="335" r="3.8"/><circle class="u" cx="207.1" cy="343" r="3.8"/><circle class="u" cx="211.1" cy="344.5" r="3.8"/><circle class="u" cx="221.1" cy="344.5" r="3.8"/><circle class="u" cx="222.1" cy="336" r="3.8"/><circle class="u" cx="225.1" cy="340" r="3.8"/><circle class="u" cx="229.1" cy="337" r="3.8"/><circle class="u" cx="232.1" cy="343" r="3.8"/><circle class="u" cx="236.1" cy="345" r="3.8"/><circle class="u" cx="240.1" cy="344" r="3.8"/><circle class="u" cx="222.1" cy="351" r="3.8"/><circle class="u" cx="227.1" cy="353" r="3.8"/><circle class="u" cx="231.1" cy="356" r="3.8"/><circle class="u" cx="237.1" cy="355" r="3.8"/><circle class="u" cx="221.1" cy="358" r="3.8"/><circle class="u" cx="225.1" cy="361" r="3.8"/><circle class="u" cx="230.1" cy="362" r="3.8"/><circle class="u" cx="236.1" cy="362" r="3.8"/><circle class="u" cx="222.1" cy="367" r="3.8"/><circle class="u" cx="227.1" cy="365" r="3.8"/><circle class="u" cx="233.1" cy="368" r="3.8"/><circle class="u" cx="244.1" cy="339" r="3.8"/><circle class="u" cx="248.1" cy="333" r="3.8"/><circle class="u" cx="252.1" cy="332" r="3.8"/><circle class="u" cx="257.1" cy="335" r="3.8"/><circle class="u" cx="250.1" cy="343" r="3.8"/><circle class="u" cx="254.1" cy="344" r="3.8"/><circle class="u" cx="251.1" cy="349" r="3.8"/><circle class="u" cx="254.1" cy="352.5" r="3.8"/><circle class="u" cx="257.1" cy="352" r="3.8"/><circle class="u" cx="256.1" cy="357" r="3.8"/><circle class="u" cx="256.1" cy="362" r="3.8"/><circle class="u" cx="252.1" cy="369" r="3.8"/><circle class="u" cx="256.1" cy="368" r="3.8"/><circle class="u" cx="263.1" cy="340" r="3.8"/><circle class="u" cx="266.1" cy="343" r="3.8"/><circle class="u" cx="269.1" cy="344" r="3.8"/><circle class="u" cx="262.1" cy="351" r="3.8"/><circle class="u" cx="270.6" cy="352.5" r="3.8"/><circle class="u" cx="271.1" cy="359.5" r="3.8"/><circle class="u" cx="278.1" cy="341" r="3.8"/><circle class="u" cx="278.1" cy="352" r="3.8"/><circle class="u" cx="285.1" cy="348" r="3.8"/><circle class="u" cx="286.1" cy="352" r="3.8"/><circle class="u" cx="286.1" cy="355.5" r="3.8"/><circle class="u" cx="277.1" cy="360" r="3.8"/><circle class="u" cx="283.6" cy="360" r="3.8"/><circle class="u" cx="280.6" cy="370.5" r="3.8"/><circle class="u" cx="294.1" cy="338" r="3.8"/><circle class="u" cx="292.1" cy="337" r="3.8"/><circle class="u" cx="295.6" cy="339.5" r="3.8"/><circle class="u" cx="293.1" cy="340" r="3.8"/><circle class="u" cx="288.1" cy="333" r="3.8"/><circle class="u" cx="213.1" cy="332" r="3.8"/><circle class="u" cx="218.1" cy="331" r="3.8"/><circle class="u" cx="227.1" cy="331" r="3.8"/><circle class="u" cx="235.1" cy="332" r="3.8"/><circle class="u" cx="241.1" cy="331" r="3.8"/><circle class="u" cx="262.1" cy="332" r="3.8"/><circle class="u" cx="268.1" cy="333" r="3.8"/><circle class="u" cx="274.1" cy="332" r="3.8"/><circle class="u" cx="282.1" cy="332.5" r="3.8"/><circle class="u" cx="370.3" cy="331.8" r="3.8"/><circle class="u" cx="410.6" cy="339.2" r="3.8"/><circle class="u" cx="303" cy="332" r="3.8"/><circle class="u" cx="317" cy="331.2" r="3.8"/><circle class="u" cx="328.7" cy="332.2" r="3.8"/><circle class="u" cx="322.5" cy="336.5" r="3.8"/><circle class="u" cx="307" cy="338" r="3.8"/><circle class="u" cx="316" cy="338" r="3.8"/><circle class="u" cx="309.5" cy="342" r="3.8"/><circle class="u" cx="317" cy="342" r="3.8"/><circle class="u" cx="345" cy="338" r="3.8"/><circle class="u" cx="299" cy="338" r="3.8"/><circle class="u" cx="306.2" cy="350.8" r="3.8"/><circle class="u" cx="314" cy="350.8" r="3.8"/><circle class="u" cx="322.3" cy="350.2" r="3.8"/><circle class="u" cx="309" cy="357" r="3.8"/><circle class="u" cx="319" cy="356.2" r="3.8"/><circle class="u" cx="300" cy="356.5" r="3.8"/><circle class="u" cx="342.5" cy="355" r="3.8"/><circle class="u" cx="339.3" cy="361.5" r="3.8"/><circle class="u" cx="334" cy="368.5" r="3.8"/><circle class="u" cx="308.5" cy="367.3" r="3.8"/><circle class="u" cx="301" cy="367.5" r="3.8"/><circle class="u" cx="302.5" cy="368" r="3.8"/><circle class="u" cx="124" cy="380.5" r="3.8"/><circle class="u" cx="228.6" cy="377" r="3.8"/><circle class="u" cx="230.1" cy="379.5" r="3.8"/><circle class="u" cx="232.6" cy="383.5" r="3.8"/><circle class="u" cx="252.1" cy="376" r="3.8"/><circle class="u" cx="257.1" cy="380.5" r="3.8"/><circle class="u" cx="266.6" cy="377.5" r="3.8"/><circle class="u" cx="283.4" cy="400.3" r="3.8"/><circle class="u" cx="407.6" cy="402.3" r="3.8"/><circle class="u" cx="219" cy="324.3" r="3.8"/><circle class="u" cx="258.9" cy="311.8" r="3.8"/><circle class="u" cx="217.1" cy="318.1" r="3.8"/><circle class="u" cx="249.6" cy="334.4" r="3.8"/><circle class="u" cx="219.1" cy="300.9" r="3.8"/><circle class="u" cx="253.7" cy="325.6" r="3.8"/><circle class="u" cx="268.6" cy="332.8" r="3.8"/><circle class="u" cx="239.2" cy="315.2" r="3.8"/><circle class="u" cx="287.3" cy="315" r="3.8"/><circle class="u" cx="226.9" cy="303.1" r="3.8"/><circle class="u" cx="242.7" cy="321" r="3.8"/><circle class="u" cx="234.8" cy="318.1" r="3.8"/><circle class="u" cx="245.9" cy="328.7" r="3.8"/><circle class="u" cx="260.7" cy="321.9" r="3.8"/><circle class="u" cx="208.8" cy="328.8" r="3.8"/><circle class="u" cx="215.4" cy="316.6" r="3.8"/><circle class="u" cx="214.5" cy="319" r="3.8"/><circle class="u" cx="227" cy="322" r="3.8"/><circle class="u" cx="256.2" cy="300.5" r="3.8"/><circle class="u" cx="235.8" cy="328.3" r="3.8"/><circle class="u" cx="239.3" cy="324.2" r="3.8"/><circle class="u" cx="242.9" cy="304.9" r="3.8"/><circle class="u" cx="251.1" cy="307.6" r="3.8"/><circle class="u" cx="274.7" cy="311.9" r="3.8"/><circle class="u" cx="253.3" cy="319" r="3.8"/><circle class="u" cx="258.1" cy="310.6" r="3.8"/><circle class="u" cx="259" cy="317.3" r="3.8"/><circle class="u" cx="263.7" cy="327.7" r="3.8"/><circle class="u" cx="243.5" cy="308.1" r="3.8"/><circle class="u" cx="254.8" cy="325.6" r="3.8"/><circle class="u" cx="270.6" cy="313.7" r="3.8"/><circle class="u" cx="251" cy="326.1" r="3.8"/><circle class="u" cx="246.1" cy="321.9" r="3.8"/><circle class="u" cx="244.3" cy="310.6" r="3.8"/><circle class="u" cx="222.7" cy="313.4" r="3.8"/><circle class="u" cx="251.6" cy="340.2" r="3.8"/><circle class="u" cx="258.6" cy="333.7" r="3.8"/><circle class="u" cx="255" cy="328.8" r="3.8"/><circle class="u" cx="244.3" cy="329.8" r="3.8"/><circle class="u" cx="272.9" cy="314.4" r="3.8"/><circle class="u" cx="221.4" cy="368.6" r="3.8"/><circle class="u" cx="229" cy="358.7" r="3.8"/><circle class="u" cx="234" cy="337.6" r="3.8"/><circle class="u" cx="246.5" cy="366.8" r="3.8"/><circle class="u" cx="228.4" cy="356.5" r="3.8"/><circle class="u" cx="228" cy="340.2" r="3.8"/><circle class="u" cx="226.1" cy="352.7" r="3.8"/><circle class="u" cx="235.9" cy="356.1" r="3.8"/><circle class="u" cx="227.5" cy="362.5" r="3.8"/><circle class="u" cx="220.9" cy="356.9" r="3.8"/><circle class="u" cx="235.9" cy="346.1" r="3.8"/><circle class="u" cx="212.7" cy="339.9" r="3.8"/><circle class="u" cx="228.9" cy="354.3" r="3.8"/><circle class="u" cx="239.4" cy="339" r="3.8"/><circle class="u" cx="227" cy="355.5" r="3.8"/><circle class="u" cx="235" cy="339.8" r="3.8"/><circle class="u" cx="259.9" cy="340.8" r="3.8"/><circle class="u" cx="288.9" cy="343.9" r="3.8"/><circle class="u" cx="265.1" cy="351.5" r="3.8"/><circle class="u" cx="263.2" cy="353.9" r="3.8"/><circle class="u" cx="257.1" cy="335.2" r="3.8"/><circle class="u" cx="271.2" cy="350.4" r="3.8"/><circle class="u" cx="270.5" cy="341.4" r="3.8"/><circle class="u" cx="245.8" cy="333.3" r="3.8"/><circle class="u" cx="257.9" cy="334.7" r="3.8"/><circle class="u" cx="269.9" cy="336.3" r="3.8"/><circle class="u" cx="271.9" cy="339.7" r="3.8"/><circle class="u" cx="260.7" cy="339.9" r="3.8"/><circle class="u" cx="268.3" cy="345.9" r="3.8"/><circle class="u" cx="259.2" cy="337.1" r="3.8"/><circle class="u" cx="250.4" cy="351.8" r="3.8"/><circle class="u" cx="278.5" cy="337.6" r="3.8"/><circle class="u" cx="190.2" cy="329.1" r="3.8"/><circle class="u" cx="196.7" cy="340.7" r="3.8"/><circle class="u" cx="209.1" cy="340.5" r="3.8"/><circle class="u" cx="178.9" cy="340.4" r="3.8"/><circle class="u" cx="206.2" cy="343.6" r="3.8"/><circle class="u" cx="193.7" cy="326.6" r="3.8"/><circle class="u" cx="185.9" cy="348.8" r="3.8"/><circle class="u" cx="211.4" cy="329.6" r="3.8"/><circle class="u" cx="179.7" cy="346" r="3.8"/><circle class="u" cx="203.5" cy="331.1" r="3.8"/><circle class="u" cx="188.1" cy="333.4" r="3.8"/><circle class="u" cx="183.1" cy="333.6" r="3.8"/>
<text class="t" text-anchor="end" transform="translate(97.4 412.5) scale(.92 1)">0</text>
<text class="t" text-anchor="end" transform="translate(97.4 335.9) scale(.92 1)">20</text>
<text class="t" text-anchor="end" transform="translate(97.4 259.3) scale(.92 1)">40</text>
<text class="t" text-anchor="end" transform="translate(97.4 182.8) scale(.92 1)">60</text>
<text class="t" text-anchor="end" transform="translate(97.4 106.2) scale(.92 1)">80</text>
<text class="t" text-anchor="end" transform="translate(97.4 29.6) scale(.92 1)">100</text>
<text class="t" transform="translate(514.4 412.6) scale(.92 1)">0</text>
<text class="t" transform="translate(514.4 316.9) scale(.92 1)">1</text>
<text class="t" transform="translate(514.4 221.2) scale(.92 1)">2</text>
<text class="t" transform="translate(514.4 125.4) scale(.92 1)">3</text>
<text class="t" transform="translate(514.4 29.7) scale(.92 1)">4</text>
<text class="t" text-anchor="middle" transform="translate(112.4 441.5) scale(.92 1)">0</text>
<text class="t" text-anchor="middle" transform="translate(208.2 441.5) scale(.92 1)">5</text>
<text class="t" text-anchor="middle" transform="translate(304.1 441.5) scale(.92 1)">10</text>
<text class="t" text-anchor="middle" transform="translate(399.9 441.5) scale(.92 1)">15</text>
<text class="t" text-anchor="middle" transform="translate(495.8 441.5) scale(.92 1)">20</text>
<text class="ax" text-anchor="middle" transform="translate(305 478.6) scale(.92 1.03)">FMD (%)</text>
<text class="ax" text-anchor="middle" transform="translate(48 216.8) rotate(-90) scale(1.035 1)">Age (Years)</text>
<text class="ax" text-anchor="middle" transform="translate(565.7 216.8) rotate(-90) scale(.976 1.02)">Relative level</text>
<text class="pl" transform="translate(1.8 39) scale(1.07 1.04)">A</text>
<circle cx="146.7" cy="8.7" r="4" stroke="#ff0000" stroke-width="1.25"/>
<text class="lg" style="letter-spacing:-.45px" x="190" y="14.1">Age</text>
<circle cx="247.3" cy="8.7" r="4" stroke="#1f4788" stroke-width="1.25"/>
<text class="lg" transform="translate(291 14.1) scale(1.02 1)">leu-TL</text>
</g>
<g>
<path class="l" d="M763.9 21.4V417.5M753.3 406.5H1158.3M1147.7 21.4V417.5M753.3 329.9H763.9M753.3 253.3H763.9M753.3 176.6H763.9M753.3 100H763.9M753.3 23.4H763.9M1147.7 310.7H1158.3M1147.7 214.9H1158.3M1147.7 119.2H1158.3M1147.7 23.4H1158.3M859.9 406.5V417.5M955.8 406.5V417.5M1051.8 406.5V417.5"/>
<circle class="r" cx="921.2" cy="65.5" r="3.8"/><circle class="r" cx="804.9" cy="69.4" r="3.8"/><circle class="r" cx="812.9" cy="69.4" r="3.8"/><circle class="r" cx="829.6" cy="69.4" r="3.8"/><circle class="r" cx="861.2" cy="69.4" r="3.8"/><circle class="r" cx="798.1" cy="73.2" r="3.8"/><circle class="r" cx="836.4" cy="73.2" r="3.8"/><circle class="r" cx="842.6" cy="73.2" r="3.8"/><circle class="r" cx="837.4" cy="77" r="3.8"/><circle class="r" cx="880.2" cy="77" r="3.8"/><circle class="r" cx="891.2" cy="77" r="3.8"/><circle class="r" cx="908.7" cy="80.9" r="3.8"/><circle class="r" cx="922.8" cy="80.9" r="3.8"/><circle class="r" cx="804.9" cy="84.7" r="3.8"/><circle class="r" cx="846.6" cy="84.7" r="3.8"/><circle class="r" cx="920.9" cy="84.7" r="3.8"/><circle class="r" cx="830.4" cy="88.5" r="3.8"/><circle class="r" cx="841.1" cy="88.5" r="3.8"/><circle class="r" cx="868.2" cy="88.5" r="3.8"/><circle class="r" cx="884.2" cy="88.5" r="3.8"/><circle class="r" cx="887.7" cy="88.5" r="3.8"/><circle class="r" cx="837.1" cy="92.4" r="3.8"/><circle class="r" cx="843.1" cy="92.4" r="3.8"/><circle class="r" cx="847.1" cy="92.4" r="3.8"/><circle class="r" cx="856.6" cy="92.4" r="3.8"/><circle class="r" cx="869.7" cy="92.4" r="3.8"/><circle class="r" cx="872.7" cy="92.4" r="3.8"/><circle class="r" cx="904.2" cy="92.4" r="3.8"/><circle class="r" cx="907.2" cy="92.4" r="3.8"/><circle class="r" cx="820.1" cy="96.2" r="3.8"/><circle class="r" cx="822.6" cy="96.2" r="3.8"/><circle class="r" cx="859.3" cy="96.2" r="3.8"/><circle class="r" cx="883.2" cy="96.2" r="3.8"/><circle class="r" cx="895.7" cy="96.2" r="3.8"/><circle class="r" cx="901.7" cy="96.2" r="3.8"/><circle class="r" cx="980.4" cy="96.2" r="3.8"/><circle class="r" cx="823.6" cy="100" r="3.8"/><circle class="r" cx="829.7" cy="100" r="3.8"/><circle class="r" cx="841.2" cy="100" r="3.8"/><circle class="r" cx="850" cy="100" r="3.8"/><circle class="r" cx="854" cy="100" r="3.8"/><circle class="r" cx="856.3" cy="100" r="3.8"/><circle class="r" cx="869.7" cy="100" r="3.8"/><circle class="r" cx="890.1" cy="100" r="3.8"/><circle class="r" cx="900.8" cy="100" r="3.8"/><circle class="r" cx="916.7" cy="100" r="3.8"/><circle class="r" cx="930.3" cy="100" r="3.8"/><circle class="r" cx="957.2" cy="100" r="3.8"/><circle class="r" cx="1002.6" cy="100" r="3.8"/><circle class="r" cx="823.8" cy="103.9" r="3.8"/><circle class="r" cx="832.8" cy="103.9" r="3.8"/><circle class="r" cx="843.2" cy="103.9" r="3.8"/><circle class="r" cx="847.5" cy="103.9" r="3.8"/><circle class="r" cx="852.7" cy="103.9" r="3.8"/><circle class="r" cx="855.6" cy="103.9" r="3.8"/><circle class="r" cx="864.7" cy="103.9" r="3.8"/><circle class="r" cx="874.7" cy="103.9" r="3.8"/><circle class="r" cx="884.1" cy="103.9" r="3.8"/><circle class="r" cx="897.6" cy="103.9" r="3.8"/><circle class="r" cx="907.7" cy="103.9" r="3.8"/><circle class="r" cx="923.8" cy="103.9" r="3.8"/><circle class="r" cx="935.8" cy="103.9" r="3.8"/><circle class="r" cx="974" cy="103.9" r="3.8"/><circle class="r" cx="775.5" cy="107.7" r="3.8"/><circle class="r" cx="826.6" cy="107.7" r="3.8"/><circle class="r" cx="836" cy="107.7" r="3.8"/><circle class="r" cx="843.8" cy="107.7" r="3.8"/><circle class="r" cx="848.7" cy="107.7" r="3.8"/><circle class="r" cx="864.4" cy="107.7" r="3.8"/><circle class="r" cx="875.7" cy="107.7" r="3.8"/><circle class="r" cx="880.7" cy="107.7" r="3.8"/><circle class="r" cx="885.7" cy="107.7" r="3.8"/><circle class="r" cx="891.2" cy="107.7" r="3.8"/><circle class="r" cx="897.7" cy="107.7" r="3.8"/><circle class="r" cx="910.7" cy="107.7" r="3.8"/><circle class="r" cx="919.7" cy="107.7" r="3.8"/><circle class="r" cx="932.8" cy="107.7" r="3.8"/><circle class="r" cx="945.3" cy="107.7" r="3.8"/><circle class="r" cx="985.7" cy="107.7" r="3.8"/><circle class="r" cx="800.4" cy="111.5" r="3.8"/><circle class="r" cx="809.1" cy="111.5" r="3.8"/><circle class="r" cx="816.6" cy="111.5" r="3.8"/><circle class="r" cx="829.6" cy="111.5" r="3.8"/><circle class="r" cx="837.2" cy="111.5" r="3.8"/><circle class="r" cx="846.5" cy="111.5" r="3.8"/><circle class="r" cx="850.9" cy="111.5" r="3.8"/><circle class="r" cx="863.7" cy="111.5" r="3.8"/><circle class="r" cx="869.5" cy="111.5" r="3.8"/><circle class="r" cx="885.2" cy="111.5" r="3.8"/><circle class="r" cx="897.9" cy="111.5" r="3.8"/><circle class="r" cx="916.7" cy="111.5" r="3.8"/><circle class="r" cx="940.8" cy="111.5" r="3.8"/><circle class="r" cx="960.2" cy="111.5" r="3.8"/><circle class="r" cx="966" cy="111.5" r="3.8"/><circle class="r" cx="785.5" cy="115.3" r="3.8"/><circle class="r" cx="810.6" cy="115.3" r="3.8"/><circle class="r" cx="833.5" cy="115.3" r="3.8"/><circle class="r" cx="839.3" cy="115.3" r="3.8"/><circle class="r" cx="844.8" cy="115.3" r="3.8"/><circle class="r" cx="848.3" cy="115.3" r="3.8"/><circle class="r" cx="853.6" cy="115.3" r="3.8"/><circle class="r" cx="866.7" cy="115.3" r="3.8"/><circle class="r" cx="888" cy="115.3" r="3.8"/><circle class="r" cx="941.8" cy="115.3" r="3.8"/><circle class="r" cx="955.7" cy="115.3" r="3.8"/><circle class="r" cx="964.7" cy="115.3" r="3.8"/><circle class="r" cx="798.1" cy="119.2" r="3.8"/><circle class="r" cx="835.3" cy="119.2" r="3.8"/><circle class="r" cx="840.6" cy="119.2" r="3.8"/><circle class="r" cx="843.4" cy="119.2" r="3.8"/><circle class="r" cx="875.1" cy="119.2" r="3.8"/><circle class="r" cx="879.9" cy="119.2" r="3.8"/><circle class="r" cx="883.4" cy="119.2" r="3.8"/><circle class="r" cx="888.5" cy="119.2" r="3.8"/><circle class="r" cx="892.8" cy="119.2" r="3.8"/><circle class="r" cx="900.2" cy="119.2" r="3.8"/><circle class="r" cx="903.5" cy="119.2" r="3.8"/><circle class="r" cx="907.1" cy="119.2" r="3.8"/><circle class="r" cx="910.1" cy="119.2" r="3.8"/><circle class="r" cx="917.7" cy="119.2" r="3.8"/><circle class="r" cx="953.2" cy="119.2" r="3.8"/><circle class="r" cx="830.1" cy="123" r="3.8"/><circle class="r" cx="841.6" cy="123" r="3.8"/><circle class="r" cx="861.2" cy="123" r="3.8"/><circle class="r" cx="863.7" cy="123" r="3.8"/><circle class="r" cx="876.3" cy="123" r="3.8"/><circle class="r" cx="885.2" cy="123" r="3.8"/><circle class="r" cx="894" cy="123" r="3.8"/><circle class="r" cx="903" cy="123" r="3.8"/><circle class="r" cx="917.7" cy="123" r="3.8"/><circle class="r" cx="933.8" cy="123" r="3.8"/><circle class="r" cx="946.8" cy="123" r="3.8"/><circle class="r" cx="954.2" cy="123" r="3.8"/><circle class="r" cx="1001.6" cy="123" r="3.8"/><circle class="r" cx="875.5" cy="126.8" r="3.8"/><circle class="r" cx="878.3" cy="126.8" r="3.8"/><circle class="r" cx="882.6" cy="126.8" r="3.8"/><circle class="r" cx="891.8" cy="126.8" r="3.8"/><circle class="r" cx="903.8" cy="126.8" r="3.8"/><circle class="r" cx="905.3" cy="126.8" r="3.8"/><circle class="r" cx="913.7" cy="126.8" r="3.8"/><circle class="r" cx="931.3" cy="126.8" r="3.8"/><circle class="r" cx="942.3" cy="126.8" r="3.8"/><circle class="r" cx="959.7" cy="126.8" r="3.8"/><circle class="r" cx="823.1" cy="130.7" r="3.8"/><circle class="r" cx="839.6" cy="130.7" r="3.8"/><circle class="r" cx="875.6" cy="130.7" r="3.8"/><circle class="r" cx="883.8" cy="130.7" r="3.8"/><circle class="r" cx="891.7" cy="130.7" r="3.8"/><circle class="r" cx="904.2" cy="130.7" r="3.8"/><circle class="r" cx="913.7" cy="130.7" r="3.8"/><circle class="r" cx="925" cy="130.7" r="3.8"/><circle class="r" cx="928.8" cy="130.7" r="3.8"/><circle class="r" cx="970.5" cy="130.7" r="3.8"/><circle class="r" cx="811.6" cy="134.5" r="3.8"/><circle class="r" cx="830.6" cy="134.5" r="3.8"/><circle class="r" cx="837.6" cy="134.5" r="3.8"/><circle class="r" cx="842.1" cy="134.5" r="3.8"/><circle class="r" cx="855.1" cy="134.5" r="3.8"/><circle class="r" cx="865.9" cy="134.5" r="3.8"/><circle class="r" cx="872.4" cy="134.5" r="3.8"/><circle class="r" cx="896.3" cy="134.5" r="3.8"/><circle class="r" cx="905.3" cy="134.5" r="3.8"/><circle class="r" cx="916.5" cy="134.5" r="3.8"/><circle class="r" cx="925.6" cy="134.5" r="3.8"/><circle class="r" cx="944.3" cy="134.5" r="3.8"/><circle class="r" cx="827.1" cy="138.3" r="3.8"/><circle class="r" cx="841.6" cy="138.3" r="3.8"/><circle class="r" cx="849.6" cy="138.3" r="3.8"/><circle class="r" cx="859.7" cy="138.3" r="3.8"/><circle class="r" cx="870.3" cy="138.3" r="3.8"/><circle class="r" cx="878.8" cy="138.3" r="3.8"/><circle class="r" cx="890.3" cy="138.3" r="3.8"/><circle class="r" cx="893.4" cy="138.3" r="3.8"/><circle class="r" cx="901.7" cy="138.3" r="3.8"/><circle class="r" cx="908.4" cy="138.3" r="3.8"/><circle class="r" cx="914.6" cy="138.3" r="3.8"/><circle class="r" cx="923.1" cy="138.3" r="3.8"/><circle class="r" cx="929.6" cy="138.3" r="3.8"/><circle class="r" cx="937.8" cy="138.3" r="3.8"/><circle class="r" cx="948.8" cy="138.3" r="3.8"/><circle class="r" cx="989.8" cy="138.3" r="3.8"/><circle class="r" cx="804.9" cy="142.2" r="3.8"/><circle class="r" cx="859.8" cy="142.2" r="3.8"/><circle class="r" cx="862.2" cy="142.2" r="3.8"/><circle class="r" cx="872" cy="142.2" r="3.8"/><circle class="r" cx="876.2" cy="142.2" r="3.8"/><circle class="r" cx="883.4" cy="142.2" r="3.8"/><circle class="r" cx="889.2" cy="142.2" r="3.8"/><circle class="r" cx="898.9" cy="142.2" r="3.8"/><circle class="r" cx="903.3" cy="142.2" r="3.8"/><circle class="r" cx="904.7" cy="142.2" r="3.8"/><circle class="r" cx="909.3" cy="142.2" r="3.8"/><circle class="r" cx="910.1" cy="142.2" r="3.8"/><circle class="r" cx="912.4" cy="142.2" r="3.8"/><circle class="r" cx="917.1" cy="142.2" r="3.8"/><circle class="r" cx="927.3" cy="142.2" r="3.8"/><circle class="r" cx="932.8" cy="142.2" r="3.8"/><circle class="r" cx="938.5" cy="142.2" r="3.8"/><circle class="r" cx="950.7" cy="142.2" r="3.8"/><circle class="r" cx="822.4" cy="146" r="3.8"/><circle class="r" cx="836.1" cy="146" r="3.8"/><circle class="r" cx="856" cy="146" r="3.8"/><circle class="r" cx="860.6" cy="146" r="3.8"/><circle class="r" cx="874.2" cy="146" r="3.8"/><circle class="r" cx="882.9" cy="146" r="3.8"/><circle class="r" cx="888.1" cy="146" r="3.8"/><circle class="r" cx="899.2" cy="146" r="3.8"/><circle class="r" cx="905" cy="146" r="3.8"/><circle class="r" cx="909.3" cy="146" r="3.8"/><circle class="r" cx="917.6" cy="146" r="3.8"/><circle class="r" cx="927.8" cy="146" r="3.8"/><circle class="r" cx="933.2" cy="146" r="3.8"/><circle class="r" cx="940.1" cy="146" r="3.8"/><circle class="r" cx="959.7" cy="146" r="3.8"/><circle class="r" cx="1021.8" cy="146" r="3.8"/><circle class="r" cx="850.8" cy="149.8" r="3.8"/><circle class="r" cx="863" cy="149.8" r="3.8"/><circle class="r" cx="875.1" cy="149.8" r="3.8"/><circle class="r" cx="879.7" cy="149.8" r="3.8"/><circle class="r" cx="883.5" cy="149.8" r="3.8"/><circle class="r" cx="893.4" cy="149.8" r="3.8"/><circle class="r" cx="902.9" cy="149.8" r="3.8"/><circle class="r" cx="908.1" cy="149.8" r="3.8"/><circle class="r" cx="917.3" cy="149.8" r="3.8"/><circle class="r" cx="919.8" cy="149.8" r="3.8"/><circle class="r" cx="927.9" cy="149.8" r="3.8"/><circle class="r" cx="932.2" cy="149.8" r="3.8"/><circle class="r" cx="939.5" cy="149.8" r="3.8"/><circle class="r" cx="946.8" cy="149.8" r="3.8"/><circle class="r" cx="960.7" cy="149.8" r="3.8"/><circle class="r" cx="992.1" cy="149.8" r="3.8"/><circle class="r" cx="844.6" cy="153.7" r="3.8"/><circle class="r" cx="849.6" cy="153.7" r="3.8"/><circle class="r" cx="855.9" cy="153.7" r="3.8"/><circle class="r" cx="866.6" cy="153.7" r="3.8"/><circle class="r" cx="875" cy="153.7" r="3.8"/><circle class="r" cx="881.1" cy="153.7" r="3.8"/><circle class="r" cx="884.3" cy="153.7" r="3.8"/><circle class="r" cx="892.1" cy="153.7" r="3.8"/><circle class="r" cx="897.6" cy="153.7" r="3.8"/><circle class="r" cx="906.3" cy="153.7" r="3.8"/><circle class="r" cx="915.3" cy="153.7" r="3.8"/><circle class="r" cx="928.4" cy="153.7" r="3.8"/><circle class="r" cx="937.8" cy="153.7" r="3.8"/><circle class="r" cx="952.2" cy="153.7" r="3.8"/><circle class="r" cx="960.5" cy="153.7" r="3.8"/><circle class="r" cx="972.9" cy="153.7" r="3.8"/><circle class="r" cx="995.8" cy="153.7" r="3.8"/><circle class="r" cx="1004.8" cy="153.7" r="3.8"/><circle class="r" cx="833.6" cy="157.5" r="3.8"/><circle class="r" cx="837.6" cy="157.5" r="3.8"/><circle class="r" cx="847.1" cy="157.5" r="3.8"/><circle class="r" cx="858.6" cy="157.5" r="3.8"/><circle class="r" cx="873.6" cy="157.5" r="3.8"/><circle class="r" cx="879.8" cy="157.5" r="3.8"/><circle class="r" cx="887.8" cy="157.5" r="3.8"/><circle class="r" cx="898.7" cy="157.5" r="3.8"/><circle class="r" cx="900.4" cy="157.5" r="3.8"/><circle class="r" cx="906.1" cy="157.5" r="3.8"/><circle class="r" cx="912.5" cy="157.5" r="3.8"/><circle class="r" cx="917.7" cy="157.5" r="3.8"/><circle class="r" cx="923.8" cy="157.5" r="3.8"/><circle class="r" cx="935.7" cy="157.5" r="3.8"/><circle class="r" cx="953.3" cy="157.5" r="3.8"/><circle class="r" cx="961.7" cy="157.5" r="3.8"/><circle class="r" cx="968.7" cy="157.5" r="3.8"/><circle class="r" cx="1008.3" cy="157.5" r="3.8"/><circle class="r" cx="833.6" cy="161.3" r="3.8"/><circle class="r" cx="872.5" cy="161.3" r="3.8"/><circle class="r" cx="876.5" cy="161.3" r="3.8"/><circle class="r" cx="882.8" cy="161.3" r="3.8"/><circle class="r" cx="889.6" cy="161.3" r="3.8"/><circle class="r" cx="896.2" cy="161.3" r="3.8"/><circle class="r" cx="904.4" cy="161.3" r="3.8"/><circle class="r" cx="917" cy="161.3" r="3.8"/><circle class="r" cx="921.6" cy="161.3" r="3.8"/><circle class="r" cx="951.7" cy="161.3" r="3.8"/><circle class="r" cx="961.7" cy="161.3" r="3.8"/><circle class="r" cx="984" cy="161.3" r="3.8"/><circle class="r" cx="1070.4" cy="161.3" r="3.8"/><circle class="r" cx="862.7" cy="165.1" r="3.8"/><circle class="r" cx="873.3" cy="165.1" r="3.8"/><circle class="r" cx="882.2" cy="165.1" r="3.8"/><circle class="r" cx="893.4" cy="165.1" r="3.8"/><circle class="r" cx="902.7" cy="165.1" r="3.8"/><circle class="r" cx="908" cy="165.1" r="3.8"/><circle class="r" cx="917.9" cy="165.1" r="3.8"/><circle class="r" cx="929.8" cy="165.1" r="3.8"/><circle class="r" cx="942.3" cy="165.1" r="3.8"/><circle class="r" cx="871.9" cy="169" r="3.8"/><circle class="r" cx="880.6" cy="169" r="3.8"/><circle class="r" cx="886.7" cy="169" r="3.8"/><circle class="r" cx="895.3" cy="169" r="3.8"/><circle class="r" cx="920.2" cy="169" r="3.8"/><circle class="r" cx="923.1" cy="169" r="3.8"/><circle class="r" cx="943.3" cy="169" r="3.8"/><circle class="r" cx="947.3" cy="169" r="3.8"/><circle class="r" cx="991.1" cy="169" r="3.8"/><circle class="r" cx="838.1" cy="172.8" r="3.8"/><circle class="r" cx="873.7" cy="172.8" r="3.8"/><circle class="r" cx="888.8" cy="172.8" r="3.8"/><circle class="r" cx="900.7" cy="172.8" r="3.8"/><circle class="r" cx="908.7" cy="172.8" r="3.8"/><circle class="r" cx="914.7" cy="172.8" r="3.8"/><circle class="r" cx="921.7" cy="172.8" r="3.8"/><circle class="r" cx="944.8" cy="172.8" r="3.8"/><circle class="r" cx="953.7" cy="172.8" r="3.8"/><circle class="r" cx="973.9" cy="172.8" r="3.8"/><circle class="r" cx="1059.4" cy="172.8" r="3.8"/><circle class="r" cx="844.6" cy="176.6" r="3.8"/><circle class="r" cx="851.1" cy="176.6" r="3.8"/><circle class="r" cx="880.2" cy="176.6" r="3.8"/><circle class="r" cx="885.2" cy="176.6" r="3.8"/><circle class="r" cx="892.9" cy="176.6" r="3.8"/><circle class="r" cx="907.7" cy="176.6" r="3.8"/><circle class="r" cx="935.8" cy="176.6" r="3.8"/><circle class="r" cx="955.2" cy="176.6" r="3.8"/><circle class="r" cx="973.9" cy="176.6" r="3.8"/><circle class="r" cx="981" cy="176.6" r="3.8"/><circle class="r" cx="888.5" cy="180.5" r="3.8"/><circle class="r" cx="923.8" cy="180.5" r="3.8"/><circle class="r" cx="964.2" cy="180.5" r="3.8"/><circle class="r" cx="968.7" cy="180.5" r="3.8"/><circle class="r" cx="994.3" cy="180.5" r="3.8"/><circle class="r" cx="1009.5" cy="180.5" r="3.8"/><circle class="r" cx="879.8" cy="184.3" r="3.8"/><circle class="r" cx="886.5" cy="184.3" r="3.8"/><circle class="r" cx="889.3" cy="184.3" r="3.8"/><circle class="r" cx="898.7" cy="184.3" r="3.8"/><circle class="r" cx="923.8" cy="184.3" r="3.8"/><circle class="r" cx="933.8" cy="184.3" r="3.8"/><circle class="r" cx="952.7" cy="184.3" r="3.8"/><circle class="r" cx="958.7" cy="184.3" r="3.8"/><circle class="r" cx="986.3" cy="184.3" r="3.8"/><circle class="r" cx="992.8" cy="184.3" r="3.8"/><circle class="r" cx="994.8" cy="184.3" r="3.8"/><circle class="r" cx="1040.3" cy="184.3" r="3.8"/><circle class="r" cx="835.4" cy="188.1" r="3.8"/><circle class="r" cx="858.4" cy="188.1" r="3.8"/><circle class="r" cx="878.2" cy="188.1" r="3.8"/><circle class="r" cx="887.7" cy="188.1" r="3.8"/><circle class="r" cx="905.7" cy="188.1" r="3.8"/><circle class="r" cx="910.7" cy="188.1" r="3.8"/><circle class="r" cx="938.8" cy="188.1" r="3.8"/><circle class="r" cx="947.8" cy="188.1" r="3.8"/><circle class="r" cx="933.8" cy="192" r="3.8"/><circle class="r" cx="936.8" cy="192" r="3.8"/><circle class="r" cx="952.2" cy="192" r="3.8"/><circle class="r" cx="954.7" cy="192" r="3.8"/><circle class="r" cx="878" cy="195.8" r="3.8"/><circle class="r" cx="925.3" cy="195.8" r="3.8"/><circle class="r" cx="932.8" cy="195.8" r="3.8"/><circle class="r" cx="964.7" cy="195.8" r="3.8"/><circle class="r" cx="967.7" cy="195.8" r="3.8"/><circle class="r" cx="933.3" cy="199.6" r="3.8"/><circle class="r" cx="899.7" cy="203.5" r="3.8"/><circle class="r" cx="946.8" cy="203.5" r="3.8"/><circle class="r" cx="1004.8" cy="203.5" r="3.8"/><circle class="r" cx="868.7" cy="207.3" r="3.8"/><circle class="r" cx="905.7" cy="207.3" r="3.8"/><circle class="r" cx="887.5" cy="211.1" r="3.8"/><circle class="r" cx="916.2" cy="211.1" r="3.8"/><circle class="r" cx="1019.1" cy="211.1" r="3.8"/><circle class="r" cx="866.7" cy="214.9" r="3.8"/><circle class="r" cx="908.7" cy="214.9" r="3.8"/><circle class="r" cx="996.8" cy="214.9" r="3.8"/><circle class="r" cx="905.2" cy="218.8" r="3.8"/><circle class="r" cx="908.2" cy="218.8" r="3.8"/><circle class="r" cx="914.7" cy="222.6" r="3.8"/><circle class="r" cx="917.7" cy="222.6" r="3.8"/><circle class="r" cx="960.7" cy="222.6" r="3.8"/><circle class="r" cx="937.8" cy="226.4" r="3.8"/><circle class="r" cx="958.2" cy="230.3" r="3.8"/><circle class="r" cx="885.2" cy="237.9" r="3.8"/><circle class="r" cx="938.3" cy="241.8" r="3.8"/><circle class="r" cx="1062.6" cy="241.8" r="3.8"/><circle class="r" cx="849.4" cy="245.6" r="3.8"/><circle class="r" cx="973.5" cy="249.4" r="3.8"/><circle class="r" cx="900.4" cy="260.9" r="3.8"/><circle class="r" cx="932.1" cy="276.2" r="3.8"/><circle class="r" cx="957.7" cy="295.4" r="3.8"/>
<circle class="g" cx="775.5" cy="394.5" r="3.8"/><circle class="g" cx="785.5" cy="391.2" r="3.8"/><circle class="g" cx="799.5" cy="389" r="3.8"/><circle class="g" cx="798" cy="395" r="3.8"/><circle class="g" cx="798" cy="398" r="3.8"/><circle class="g" cx="805" cy="383" r="3.8"/><circle class="g" cx="809" cy="384" r="3.8"/><circle class="g" cx="805" cy="393" r="3.8"/><circle class="g" cx="805" cy="400.5" r="3.8"/><circle class="g" cx="811" cy="389.5" r="3.8"/><circle class="g" cx="813" cy="393.5" r="3.8"/><circle class="g" cx="816.5" cy="387" r="3.8"/><circle class="g" cx="823" cy="397" r="3.8"/><circle class="g" cx="825" cy="399" r="3.8"/><circle class="g" cx="821" cy="388" r="3.8"/><circle class="g" cx="825" cy="387" r="3.8"/><circle class="g" cx="829" cy="375.5" r="3.8"/><circle class="g" cx="828" cy="384" r="3.8"/><circle class="g" cx="837" cy="396" r="3.8"/><circle class="g" cx="839" cy="397.5" r="3.8"/><circle class="g" cx="834" cy="393" r="3.8"/><circle class="g" cx="885.1" cy="392" r="3.8"/><circle class="g" cx="904.1" cy="392" r="3.8"/><circle class="g" cx="914.1" cy="391" r="3.8"/><circle class="g" cx="940.1" cy="392.5" r="3.8"/><circle class="g" cx="947.1" cy="396" r="3.8"/><circle class="g" cx="933.1" cy="385.5" r="3.8"/><circle class="g" cx="922.1" cy="382" r="3.8"/><circle class="g" cx="849.5" cy="328" r="3.8"/><circle class="g" cx="864.1" cy="331.5" r="3.8"/><circle class="g" cx="886.1" cy="329.5" r="3.8"/><circle class="g" cx="871.9" cy="339" r="3.8"/><circle class="g" cx="904.1" cy="332" r="3.8"/><circle class="g" cx="908.1" cy="334" r="3.8"/><circle class="g" cx="918.1" cy="331.5" r="3.8"/><circle class="g" cx="921.1" cy="331" r="3.8"/><circle class="g" cx="924.1" cy="330" r="3.8"/><circle class="g" cx="938.1" cy="328" r="3.8"/><circle class="g" cx="923.1" cy="338" r="3.8"/><circle class="g" cx="926.1" cy="339" r="3.8"/><circle class="g" cx="933.1" cy="338" r="3.8"/><circle class="g" cx="936.6" cy="337.5" r="3.8"/><circle class="g" cx="946.1" cy="333.5" r="3.8"/><circle class="g" cx="945.1" cy="339" r="3.8"/><circle class="g" cx="898.6" cy="339" r="3.8"/><circle class="g" cx="902.6" cy="341" r="3.8"/><circle class="g" cx="892.6" cy="344.5" r="3.8"/><circle class="g" cx="913.6" cy="344" r="3.8"/><circle class="g" cx="937.1" cy="343" r="3.8"/><circle class="g" cx="946.6" cy="347" r="3.8"/><circle class="g" cx="943.1" cy="349.5" r="3.8"/><circle class="g" cx="930.1" cy="351" r="3.8"/><circle class="g" cx="847" cy="347.5" r="3.8"/><circle class="g" cx="847" cy="352" r="3.8"/><circle class="g" cx="843" cy="356.5" r="3.8"/><circle class="g" cx="851" cy="356" r="3.8"/><circle class="g" cx="864.1" cy="356" r="3.8"/><circle class="g" cx="869.6" cy="359.5" r="3.8"/><circle class="g" cx="878.6" cy="356" r="3.8"/><circle class="g" cx="885.6" cy="356" r="3.8"/><circle class="g" cx="890.1" cy="357" r="3.8"/><circle class="g" cx="833" cy="366" r="3.8"/><circle class="g" cx="837" cy="363.5" r="3.8"/><circle class="g" cx="844" cy="363" r="3.8"/><circle class="g" cx="852" cy="365" r="3.8"/><circle class="g" cx="846" cy="368" r="3.8"/><circle class="g" cx="858.1" cy="368.5" r="3.8"/><circle class="g" cx="840" cy="371" r="3.8"/><circle class="g" cx="851" cy="372" r="3.8"/><circle class="g" cx="961" cy="393.5" r="3.8"/><circle class="g" cx="966" cy="394" r="3.8"/><circle class="g" cx="960" cy="383" r="3.8"/><circle class="g" cx="962" cy="374.5" r="3.8"/><circle class="g" cx="960" cy="371" r="3.8"/><circle class="g" cx="954" cy="387" r="3.8"/><circle class="g" cx="952" cy="378" r="3.8"/><circle class="g" cx="955" cy="370" r="3.8"/><circle class="g" cx="1059.3" cy="328.5" r="3.8"/><circle class="g" cx="1040.3" cy="338.5" r="3.8"/><circle class="g" cx="1008.2" cy="341" r="3.8"/><circle class="g" cx="989.7" cy="346" r="3.8"/><circle class="g" cx="980.3" cy="332.5" r="3.8"/><circle class="g" cx="954" cy="331" r="3.8"/><circle class="g" cx="956" cy="335.5" r="3.8"/><circle class="g" cx="965" cy="337" r="3.8"/><circle class="g" cx="965" cy="339.5" r="3.8"/><circle class="g" cx="968.8" cy="346" r="3.8"/><circle class="g" cx="961" cy="349" r="3.8"/><circle class="g" cx="953.5" cy="349.2" r="3.8"/><circle class="g" cx="965" cy="358" r="3.8"/><circle class="g" cx="957.5" cy="357" r="3.8"/><circle class="g" cx="952" cy="361" r="3.8"/><circle class="g" cx="956" cy="365" r="3.8"/><circle class="g" cx="960" cy="366" r="3.8"/><circle class="g" cx="962" cy="368" r="3.8"/><circle class="g" cx="953" cy="374" r="3.8"/><circle class="g" cx="957" cy="375" r="3.8"/><circle class="g" cx="960.5" cy="292" r="3.8"/><circle class="g" cx="970.5" cy="292.5" r="3.8"/><circle class="g" cx="974.5" cy="289" r="3.8"/><circle class="g" cx="992.5" cy="288" r="3.8"/><circle class="g" cx="974" cy="298.5" r="3.8"/><circle class="g" cx="974" cy="300.5" r="3.8"/><circle class="g" cx="986.3" cy="303.2" r="3.8"/><circle class="g" cx="991" cy="304.5" r="3.8"/><circle class="g" cx="967.5" cy="312.2" r="3.8"/><circle class="g" cx="1005" cy="314.5" r="3.8"/><circle class="g" cx="1004.7" cy="321.5" r="3.8"/><circle class="g" cx="968.5" cy="261.3" r="3.8"/><circle class="g" cx="958" cy="274.7" r="3.8"/><circle class="g" cx="1022" cy="278" r="3.8"/><circle class="g" cx="1018.8" cy="281.5" r="3.8"/><circle class="g" cx="994" cy="285.2" r="3.8"/><circle class="g" cx="996.5" cy="214" r="3.8"/><circle class="g" cx="1002.8" cy="208.8" r="3.8"/><circle class="g" cx="995.8" cy="221.8" r="3.8"/><circle class="g" cx="1070.4" cy="219" r="3.8"/><circle class="g" cx="981" cy="235.2" r="3.8"/><circle class="g" cx="973.5" cy="242" r="3.8"/><circle class="g" cx="985.8" cy="244.5" r="3.8"/><circle class="g" cx="1062.4" cy="188" r="3.8"/><circle class="g" cx="984" cy="198.3" r="3.8"/><circle class="g" cx="956.2" cy="139.2" r="3.8"/><circle class="g" cx="972.7" cy="143.2" r="3.8"/><circle class="g" cx="994" cy="148.5" r="3.8"/><circle class="g" cx="1001.7" cy="162.5" r="3.8"/><circle class="g" cx="954" cy="112" r="3.8"/><circle class="g" cx="918.1" cy="288" r="3.8"/><circle class="g" cx="919.4" cy="298" r="3.8"/><circle class="g" cx="888.6" cy="300.3" r="3.8"/><circle class="g" cx="940.9" cy="300.3" r="3.8"/><circle class="g" cx="907.3" cy="305.2" r="3.8"/><circle class="g" cx="914.1" cy="306" r="3.8"/><circle class="g" cx="885.6" cy="315.2" r="3.8"/><circle class="g" cx="933.1" cy="314.5" r="3.8"/><circle class="g" cx="907.3" cy="315.5" r="3.8"/><circle class="g" cx="907.8" cy="318.5" r="3.8"/><circle class="g" cx="908.6" cy="324.5" r="3.8"/><circle class="g" cx="901.9" cy="325.8" r="3.8"/><circle class="g" cx="908.1" cy="332" r="3.8"/><circle class="g" cx="926.6" cy="330" r="3.8"/><circle class="g" cx="936.6" cy="250" r="3.8"/><circle class="g" cx="926.9" cy="257.3" r="3.8"/><circle class="g" cx="907.1" cy="269.5" r="3.8"/><circle class="g" cx="928.1" cy="273.8" r="3.8"/><circle class="g" cx="909.4" cy="227.8" r="3.8"/><circle class="g" cx="842" cy="382.1" r="3.8"/><circle class="g" cx="842.2" cy="375.5" r="3.8"/><circle class="g" cx="836.6" cy="376.3" r="3.8"/><circle class="g" cx="852.9" cy="381.4" r="3.8"/><circle class="g" cx="852.3" cy="380" r="3.8"/><circle class="g" cx="847.2" cy="379.5" r="3.8"/><circle class="g" cx="830.7" cy="384.8" r="3.8"/><circle class="g" cx="848.1" cy="382" r="3.8"/><circle class="g" cx="830.5" cy="364" r="3.8"/><circle class="g" cx="836.9" cy="374.3" r="3.8"/><circle class="g" cx="846.4" cy="377.6" r="3.8"/><circle class="g" cx="848.2" cy="372.9" r="3.8"/><circle class="g" cx="846.5" cy="381.2" r="3.8"/><circle class="g" cx="838.7" cy="391.7" r="3.8"/><circle class="g" cx="848.5" cy="387.6" r="3.8"/><circle class="g" cx="839" cy="372.1" r="3.8"/><circle class="g" cx="841.2" cy="377.1" r="3.8"/><circle class="g" cx="849.1" cy="380" r="3.8"/><circle class="g" cx="840.4" cy="370.3" r="3.8"/><circle class="g" cx="839.8" cy="387.8" r="3.8"/><circle class="g" cx="837.5" cy="380" r="3.8"/><circle class="g" cx="847.4" cy="366.1" r="3.8"/><circle class="g" cx="844.4" cy="388.4" r="3.8"/><circle class="g" cx="827.9" cy="375.4" r="3.8"/><circle class="g" cx="843.2" cy="371.5" r="3.8"/><circle class="g" cx="848" cy="377.5" r="3.8"/><circle class="g" cx="832.3" cy="384.6" r="3.8"/><circle class="g" cx="849.4" cy="385.6" r="3.8"/><circle class="g" cx="855.5" cy="380.9" r="3.8"/><circle class="g" cx="845" cy="367.6" r="3.8"/><circle class="g" cx="848.9" cy="373.1" r="3.8"/><circle class="g" cx="840.4" cy="367.9" r="3.8"/><circle class="g" cx="836.3" cy="373.8" r="3.8"/><circle class="g" cx="854.3" cy="361.7" r="3.8"/><circle class="g" cx="832.3" cy="379.9" r="3.8"/><circle class="g" cx="855.5" cy="382.6" r="3.8"/><circle class="g" cx="846.9" cy="372.1" r="3.8"/><circle class="g" cx="835" cy="385.8" r="3.8"/><circle class="g" cx="852.8" cy="379.3" r="3.8"/><circle class="g" cx="846" cy="381.5" r="3.8"/><circle class="g" cx="856.8" cy="383" r="3.8"/><circle class="g" cx="848.1" cy="382.4" r="3.8"/><circle class="g" cx="831.5" cy="388.3" r="3.8"/><circle class="g" cx="851.6" cy="382.2" r="3.8"/><circle class="g" cx="828.2" cy="372.9" r="3.8"/><circle class="g" cx="850.7" cy="363.5" r="3.8"/><circle class="g" cx="865.1" cy="392.1" r="3.8"/><circle class="g" cx="859.4" cy="394.4" r="3.8"/><circle class="g" cx="868.8" cy="387.4" r="3.8"/><circle class="g" cx="867.6" cy="390.6" r="3.8"/><circle class="g" cx="866.6" cy="392.6" r="3.8"/><circle class="g" cx="862.7" cy="386.3" r="3.8"/><circle class="g" cx="871.2" cy="388.1" r="3.8"/><circle class="g" cx="861.6" cy="391.8" r="3.8"/><circle class="g" cx="873.3" cy="386.2" r="3.8"/><circle class="g" cx="859.1" cy="387.5" r="3.8"/><circle class="g" cx="851.3" cy="389.1" r="3.8"/><circle class="g" cx="859" cy="386.9" r="3.8"/><circle class="g" cx="858.3" cy="386.2" r="3.8"/><circle class="g" cx="848.1" cy="391.9" r="3.8"/><circle class="g" cx="857.6" cy="392.6" r="3.8"/><circle class="g" cx="853.7" cy="390.4" r="3.8"/><circle class="g" cx="852.8" cy="391.7" r="3.8"/><circle class="g" cx="851.1" cy="390.8" r="3.8"/><circle class="g" cx="854.9" cy="390" r="3.8"/><circle class="g" cx="893.6" cy="383" r="3.8"/><circle class="g" cx="906.1" cy="381.3" r="3.8"/><circle class="g" cx="881.7" cy="376.4" r="3.8"/><circle class="g" cx="885.9" cy="385.5" r="3.8"/><circle class="g" cx="882.6" cy="381.7" r="3.8"/><circle class="g" cx="904.4" cy="361" r="3.8"/><circle class="g" cx="874.8" cy="380.7" r="3.8"/><circle class="g" cx="890" cy="380.7" r="3.8"/><circle class="g" cx="881.7" cy="383.6" r="3.8"/><circle class="g" cx="888.8" cy="375.3" r="3.8"/><circle class="g" cx="880.5" cy="378.3" r="3.8"/><circle class="g" cx="883.7" cy="378.6" r="3.8"/><circle class="g" cx="896.1" cy="370.8" r="3.8"/><circle class="g" cx="885.3" cy="385.7" r="3.8"/><circle class="g" cx="894.6" cy="389.4" r="3.8"/><circle class="g" cx="869" cy="376.5" r="3.8"/><circle class="g" cx="882.6" cy="383.4" r="3.8"/><circle class="g" cx="896.9" cy="360.2" r="3.8"/><circle class="g" cx="896.9" cy="368.9" r="3.8"/><circle class="g" cx="892.8" cy="368.6" r="3.8"/><circle class="g" cx="887.8" cy="387.4" r="3.8"/><circle class="g" cx="884.5" cy="380.3" r="3.8"/><circle class="g" cx="894" cy="380" r="3.8"/><circle class="g" cx="885.1" cy="389.7" r="3.8"/><circle class="g" cx="896.5" cy="376.9" r="3.8"/><circle class="g" cx="895.1" cy="377.1" r="3.8"/><circle class="g" cx="887.3" cy="383.9" r="3.8"/><circle class="g" cx="888.2" cy="383.5" r="3.8"/><circle class="g" cx="870.7" cy="368.4" r="3.8"/><circle class="g" cx="892.1" cy="372.3" r="3.8"/><circle class="g" cx="875.7" cy="368.7" r="3.8"/><circle class="g" cx="898.7" cy="384.2" r="3.8"/><circle class="g" cx="900.7" cy="372.4" r="3.8"/><circle class="g" cx="886" cy="371" r="3.8"/><circle class="g" cx="893.7" cy="390.1" r="3.8"/><circle class="g" cx="877.1" cy="389.9" r="3.8"/><circle class="g" cx="895.9" cy="377.8" r="3.8"/><circle class="g" cx="866.3" cy="388.8" r="3.8"/><circle class="g" cx="885" cy="374.8" r="3.8"/><circle class="g" cx="890" cy="381.9" r="3.8"/><circle class="g" cx="901" cy="371.9" r="3.8"/><circle class="g" cx="897.4" cy="389.4" r="3.8"/><circle class="g" cx="900.5" cy="377.7" r="3.8"/><circle class="g" cx="878.6" cy="386.1" r="3.8"/><circle class="g" cx="887.2" cy="379.9" r="3.8"/><circle class="g" cx="900.2" cy="377.2" r="3.8"/><circle class="g" cx="867.5" cy="384.7" r="3.8"/><circle class="g" cx="889.2" cy="374.7" r="3.8"/><circle class="g" cx="885.9" cy="384.8" r="3.8"/><circle class="g" cx="886.8" cy="388.3" r="3.8"/><circle class="g" cx="885.4" cy="386.3" r="3.8"/><circle class="g" cx="900.9" cy="390.3" r="3.8"/><circle class="g" cx="879.3" cy="385.2" r="3.8"/><circle class="g" cx="867.2" cy="371.4" r="3.8"/><circle class="g" cx="866.4" cy="386.5" r="3.8"/><circle class="g" cx="873.7" cy="378.9" r="3.8"/><circle class="g" cx="884.1" cy="378.8" r="3.8"/><circle class="g" cx="880.1" cy="380.6" r="3.8"/><circle class="g" cx="903.9" cy="379.3" r="3.8"/><circle class="g" cx="891.3" cy="386" r="3.8"/><circle class="g" cx="884" cy="370.2" r="3.8"/><circle class="g" cx="880.4" cy="386.5" r="3.8"/><circle class="g" cx="869.5" cy="374.8" r="3.8"/><circle class="g" cx="896.1" cy="384.5" r="3.8"/><circle class="g" cx="886.1" cy="384.6" r="3.8"/><circle class="g" cx="887.7" cy="370.7" r="3.8"/><circle class="g" cx="870.4" cy="374.5" r="3.8"/><circle class="g" cx="895.2" cy="375" r="3.8"/><circle class="g" cx="877" cy="373.6" r="3.8"/><circle class="g" cx="870.7" cy="378.2" r="3.8"/><circle class="g" cx="874.2" cy="381.5" r="3.8"/><circle class="g" cx="879.6" cy="365.4" r="3.8"/><circle class="g" cx="893.2" cy="377.1" r="3.8"/><circle class="g" cx="888.9" cy="375.8" r="3.8"/><circle class="g" cx="893.8" cy="384.2" r="3.8"/><circle class="g" cx="892.7" cy="381.3" r="3.8"/><circle class="g" cx="899.3" cy="383.6" r="3.8"/><circle class="g" cx="890.5" cy="364.4" r="3.8"/><circle class="g" cx="895" cy="388.2" r="3.8"/><circle class="g" cx="883" cy="375.7" r="3.8"/><circle class="g" cx="905.4" cy="366.7" r="3.8"/><circle class="g" cx="876.7" cy="383.8" r="3.8"/><circle class="g" cx="904.9" cy="378.2" r="3.8"/><circle class="g" cx="891.6" cy="385.3" r="3.8"/><circle class="g" cx="876.9" cy="378.4" r="3.8"/><circle class="g" cx="888.9" cy="384.8" r="3.8"/><circle class="g" cx="885.7" cy="377.6" r="3.8"/><circle class="g" cx="875.8" cy="376.5" r="3.8"/><circle class="g" cx="894.9" cy="379.7" r="3.8"/><circle class="g" cx="877.5" cy="373.1" r="3.8"/><circle class="g" cx="892.4" cy="360.8" r="3.8"/><circle class="g" cx="892.2" cy="382.4" r="3.8"/><circle class="g" cx="922.1" cy="360.8" r="3.8"/><circle class="g" cx="911.6" cy="361.7" r="3.8"/><circle class="g" cx="900.3" cy="366.3" r="3.8"/><circle class="g" cx="913.9" cy="350.7" r="3.8"/><circle class="g" cx="920" cy="373.3" r="3.8"/><circle class="g" cx="903.6" cy="351" r="3.8"/><circle class="g" cx="913.7" cy="358.7" r="3.8"/><circle class="g" cx="909.6" cy="348.2" r="3.8"/><circle class="g" cx="924.7" cy="366.3" r="3.8"/><circle class="g" cx="904.8" cy="344.9" r="3.8"/><circle class="g" cx="922.2" cy="365.9" r="3.8"/><circle class="g" cx="922.9" cy="364.3" r="3.8"/><circle class="g" cx="906.8" cy="359.3" r="3.8"/><circle class="g" cx="899" cy="350.3" r="3.8"/><circle class="g" cx="911.6" cy="361.7" r="3.8"/><circle class="g" cx="907.6" cy="355.9" r="3.8"/><circle class="g" cx="914.8" cy="360.4" r="3.8"/><circle class="g" cx="915.8" cy="358.9" r="3.8"/><circle class="g" cx="910.1" cy="364.1" r="3.8"/><circle class="g" cx="912.3" cy="349.6" r="3.8"/><circle class="g" cx="908.2" cy="357" r="3.8"/><circle class="g" cx="911.3" cy="358.4" r="3.8"/><circle class="g" cx="912" cy="358.6" r="3.8"/><circle class="g" cx="911.2" cy="345.7" r="3.8"/><circle class="g" cx="914.5" cy="366.5" r="3.8"/><circle class="g" cx="914.6" cy="355.3" r="3.8"/><circle class="g" cx="914.7" cy="348.3" r="3.8"/><circle class="g" cx="900.6" cy="357.5" r="3.8"/><circle class="g" cx="906.4" cy="363.7" r="3.8"/><circle class="g" cx="905.8" cy="371.2" r="3.8"/><circle class="g" cx="909.7" cy="344.7" r="3.8"/><circle class="g" cx="907.4" cy="361.7" r="3.8"/><circle class="g" cx="915" cy="358.6" r="3.8"/><circle class="g" cx="920.9" cy="363.4" r="3.8"/><circle class="g" cx="911.9" cy="362.4" r="3.8"/><circle class="g" cx="921.9" cy="365.7" r="3.8"/><circle class="g" cx="918.1" cy="347.3" r="3.8"/><circle class="g" cx="911.1" cy="363.6" r="3.8"/><circle class="g" cx="910.2" cy="366.6" r="3.8"/><circle class="g" cx="915.6" cy="365.2" r="3.8"/><circle class="g" cx="919.4" cy="355.1" r="3.8"/><circle class="g" cx="909.9" cy="364.9" r="3.8"/><circle class="g" cx="917.9" cy="357.1" r="3.8"/><circle class="g" cx="905" cy="358.7" r="3.8"/><circle class="g" cx="914.2" cy="367.2" r="3.8"/><circle class="g" cx="916.3" cy="377.1" r="3.8"/><circle class="g" cx="916.8" cy="380.2" r="3.8"/><circle class="g" cx="911.6" cy="377.3" r="3.8"/><circle class="g" cx="908.1" cy="381.1" r="3.8"/><circle class="g" cx="901.6" cy="373.2" r="3.8"/><circle class="g" cx="910" cy="368.2" r="3.8"/><circle class="g" cx="904.5" cy="380.4" r="3.8"/><circle class="g" cx="914.5" cy="376.7" r="3.8"/><circle class="g" cx="908.1" cy="368.5" r="3.8"/><circle class="g" cx="924.6" cy="380.1" r="3.8"/><circle class="g" cx="918.7" cy="371.7" r="3.8"/><circle class="g" cx="908.5" cy="366.1" r="3.8"/><circle class="g" cx="916.2" cy="382.6" r="3.8"/><circle class="g" cx="915" cy="366.4" r="3.8"/><circle class="g" cx="905" cy="368.6" r="3.8"/><circle class="g" cx="910.3" cy="378.5" r="3.8"/><circle class="g" cx="915.1" cy="381.2" r="3.8"/><circle class="g" cx="922" cy="384" r="3.8"/><circle class="g" cx="899.5" cy="374" r="3.8"/><circle class="g" cx="901.5" cy="370.5" r="3.8"/><circle class="g" cx="909.3" cy="377" r="3.8"/><circle class="g" cx="913.9" cy="367.5" r="3.8"/><circle class="g" cx="900.1" cy="376.9" r="3.8"/><circle class="g" cx="908.4" cy="375.1" r="3.8"/><circle class="g" cx="909.5" cy="372.4" r="3.8"/><circle class="g" cx="915.6" cy="379.1" r="3.8"/><circle class="g" cx="909.3" cy="373" r="3.8"/><circle class="g" cx="902.1" cy="377.2" r="3.8"/><circle class="g" cx="898" cy="378.2" r="3.8"/><circle class="g" cx="911.2" cy="368.7" r="3.8"/><circle class="g" cx="908" cy="375.1" r="3.8"/><circle class="g" cx="913.7" cy="380.7" r="3.8"/><circle class="g" cx="941.6" cy="368.5" r="3.8"/><circle class="g" cx="940.3" cy="376.3" r="3.8"/><circle class="g" cx="950.8" cy="379.9" r="3.8"/><circle class="g" cx="933.3" cy="363.5" r="3.8"/><circle class="g" cx="937.5" cy="369.6" r="3.8"/><circle class="g" cx="928.7" cy="375.8" r="3.8"/><circle class="g" cx="936.1" cy="378.1" r="3.8"/><circle class="g" cx="948.3" cy="372.9" r="3.8"/><circle class="g" cx="955.2" cy="378.2" r="3.8"/><circle class="g" cx="933" cy="379.5" r="3.8"/><circle class="g" cx="945.9" cy="389.8" r="3.8"/><circle class="g" cx="951.2" cy="386.5" r="3.8"/><circle class="g" cx="948.1" cy="375.4" r="3.8"/><circle class="g" cx="948.1" cy="366.2" r="3.8"/><circle class="g" cx="956.2" cy="366.8" r="3.8"/><circle class="g" cx="939.3" cy="377.2" r="3.8"/><circle class="g" cx="956" cy="377.3" r="3.8"/><circle class="g" cx="932.3" cy="379.6" r="3.8"/><circle class="g" cx="949" cy="384.1" r="3.8"/><circle class="g" cx="932.7" cy="394.5" r="3.8"/><circle class="g" cx="962" cy="377.2" r="3.8"/><circle class="g" cx="945.2" cy="372.7" r="3.8"/><circle class="g" cx="959" cy="370" r="3.8"/><circle class="g" cx="950.1" cy="372.2" r="3.8"/><circle class="g" cx="933.7" cy="384.2" r="3.8"/><circle class="g" cx="958" cy="376.9" r="3.8"/><circle class="g" cx="933.9" cy="385.1" r="3.8"/><circle class="g" cx="941.4" cy="380.1" r="3.8"/><circle class="g" cx="960.3" cy="388.3" r="3.8"/><circle class="g" cx="942" cy="384.9" r="3.8"/><circle class="g" cx="934.2" cy="376.6" r="3.8"/><circle class="g" cx="958.4" cy="364.8" r="3.8"/><circle class="g" cx="923.9" cy="360.8" r="3.8"/><circle class="g" cx="956.1" cy="372.4" r="3.8"/><circle class="g" cx="941.3" cy="373.9" r="3.8"/><circle class="g" cx="940.5" cy="366.1" r="3.8"/><circle class="g" cx="942.3" cy="362.6" r="3.8"/><circle class="g" cx="941.1" cy="380.1" r="3.8"/><circle class="g" cx="947.6" cy="374.7" r="3.8"/><circle class="g" cx="931.2" cy="378.6" r="3.8"/><circle class="g" cx="936.2" cy="392.7" r="3.8"/><circle class="g" cx="951.2" cy="375.8" r="3.8"/><circle class="g" cx="933.3" cy="344.4" r="3.8"/><circle class="g" cx="928.6" cy="347.2" r="3.8"/><circle class="g" cx="940.9" cy="354.1" r="3.8"/><circle class="g" cx="931" cy="350.1" r="3.8"/><circle class="g" cx="932.8" cy="351.4" r="3.8"/><circle class="g" cx="939.5" cy="353.3" r="3.8"/><circle class="g" cx="935.6" cy="352.9" r="3.8"/><circle class="g" cx="938.5" cy="356.2" r="3.8"/><circle class="g" cx="938" cy="341.7" r="3.8"/><circle class="g" cx="927.6" cy="355" r="3.8"/><circle class="g" cx="931.5" cy="355.1" r="3.8"/><circle class="g" cx="945.5" cy="352.5" r="3.8"/>
<text class="t" text-anchor="end" transform="translate(748.9 412.8) scale(.92 1)">0</text>
<text class="t" text-anchor="end" transform="translate(748.9 336.2) scale(.92 1)">20</text>
<text class="t" text-anchor="end" transform="translate(748.9 259.6) scale(.92 1)">40</text>
<text class="t" text-anchor="end" transform="translate(748.9 182.9) scale(.92 1)">60</text>
<text class="t" text-anchor="end" transform="translate(748.9 106.3) scale(.92 1)">80</text>
<text class="t" text-anchor="end" transform="translate(748.9 29.7) scale(.92 1)">100</text>
<text class="t" transform="translate(1166.3 412.9) scale(.92 1)">0</text>
<text class="t" transform="translate(1166.3 317.1) scale(.92 1)">2</text>
<text class="t" transform="translate(1166.3 221.3) scale(.92 1)">4</text>
<text class="t" transform="translate(1166.3 125.6) scale(.92 1)">6</text>
<text class="t" transform="translate(1166.3 29.8) scale(.92 1)">8</text>
<text class="t" text-anchor="middle" transform="translate(763.9 441.8) scale(.92 1)">0</text>
<text class="t" text-anchor="middle" transform="translate(859.9 441.8) scale(.92 1)">5</text>
<text class="t" text-anchor="middle" transform="translate(955.8 441.8) scale(.92 1)">10</text>
<text class="t" text-anchor="middle" transform="translate(1051.8 441.8) scale(.92 1)">15</text>
<text class="t" text-anchor="middle" transform="translate(1147.7 441.8) scale(.92 1)">20</text>
<text class="ax" text-anchor="middle" transform="translate(956.7 478.9) scale(.92 1.03)">FMD (%)</text>
<text class="ax" text-anchor="middle" transform="translate(699.5 217) rotate(-90) scale(1.035 1)">Age (Years)</text>
<text class="ax" text-anchor="middle" transform="translate(1217.6 217) rotate(-90) scale(.976 1.02)">Relative level</text>
<text class="pl" transform="translate(652.3 39) scale(0.96 1.04)">B</text>
<circle cx="797.4" cy="8.9" r="4" stroke="#ff0000" stroke-width="1.25"/>
<text class="lg" style="letter-spacing:-.45px" x="840.9" y="14.3">Age</text>
<circle cx="897" cy="8.9" r="4" stroke="#159a5c" stroke-width="1.25"/>
<text class="lg" transform="translate(940.5 14.3) scale(1.02 1)">leu-mtDNA</text>
</g>
<g>
<path class="l" d="M1412.7 22.8V418.9M1402.1 407.9H1806.9M1796.3 22.8V418.9M1402.1 331.3H1412.7M1402.1 254.7H1412.7M1402.1 178H1412.7M1402.1 101.4H1412.7M1402.1 24.8H1412.7M1796.3 312.1H1806.9M1796.3 216.3H1806.9M1796.3 120.6H1806.9M1796.3 24.8H1806.9M1508.6 407.9V418.9M1604.5 407.9V418.9M1700.4 407.9V418.9"/>
<circle class="r" cx="1570" cy="66.9" r="3.8"/><circle class="r" cx="1453.6" cy="70.8" r="3.8"/><circle class="r" cx="1461.7" cy="70.8" r="3.8"/><circle class="r" cx="1478.4" cy="70.8" r="3.8"/><circle class="r" cx="1509.9" cy="70.8" r="3.8"/><circle class="r" cx="1446.8" cy="74.6" r="3.8"/><circle class="r" cx="1485.2" cy="74.6" r="3.8"/><circle class="r" cx="1491.4" cy="74.6" r="3.8"/><circle class="r" cx="1486.2" cy="78.4" r="3.8"/><circle class="r" cx="1528.9" cy="78.4" r="3.8"/><circle class="r" cx="1539.9" cy="78.4" r="3.8"/><circle class="r" cx="1557.5" cy="82.3" r="3.8"/><circle class="r" cx="1571.5" cy="82.3" r="3.8"/><circle class="r" cx="1453.6" cy="86.1" r="3.8"/><circle class="r" cx="1495.4" cy="86.1" r="3.8"/><circle class="r" cx="1569.7" cy="86.1" r="3.8"/><circle class="r" cx="1479.2" cy="89.9" r="3.8"/><circle class="r" cx="1489.9" cy="89.9" r="3.8"/><circle class="r" cx="1516.9" cy="89.9" r="3.8"/><circle class="r" cx="1532.9" cy="89.9" r="3.8"/><circle class="r" cx="1536.4" cy="89.9" r="3.8"/><circle class="r" cx="1485.9" cy="93.8" r="3.8"/><circle class="r" cx="1491.9" cy="93.8" r="3.8"/><circle class="r" cx="1495.9" cy="93.8" r="3.8"/><circle class="r" cx="1505.4" cy="93.8" r="3.8"/><circle class="r" cx="1518.4" cy="93.8" r="3.8"/><circle class="r" cx="1521.4" cy="93.8" r="3.8"/><circle class="r" cx="1552.9" cy="93.8" r="3.8"/><circle class="r" cx="1556" cy="93.8" r="3.8"/><circle class="r" cx="1468.9" cy="97.6" r="3.8"/><circle class="r" cx="1471.4" cy="97.6" r="3.8"/><circle class="r" cx="1508.1" cy="97.6" r="3.8"/><circle class="r" cx="1531.9" cy="97.6" r="3.8"/><circle class="r" cx="1544.4" cy="97.6" r="3.8"/><circle class="r" cx="1550.4" cy="97.6" r="3.8"/><circle class="r" cx="1629.1" cy="97.6" r="3.8"/><circle class="r" cx="1472.4" cy="101.4" r="3.8"/><circle class="r" cx="1478.5" cy="101.4" r="3.8"/><circle class="r" cx="1490" cy="101.4" r="3.8"/><circle class="r" cx="1498.7" cy="101.4" r="3.8"/><circle class="r" cx="1502.8" cy="101.4" r="3.8"/><circle class="r" cx="1505" cy="101.4" r="3.8"/><circle class="r" cx="1518.4" cy="101.4" r="3.8"/><circle class="r" cx="1538.9" cy="101.4" r="3.8"/><circle class="r" cx="1549.5" cy="101.4" r="3.8"/><circle class="r" cx="1565.5" cy="101.4" r="3.8"/><circle class="r" cx="1579" cy="101.4" r="3.8"/><circle class="r" cx="1605.9" cy="101.4" r="3.8"/><circle class="r" cx="1651.3" cy="101.4" r="3.8"/><circle class="r" cx="1472.6" cy="105.3" r="3.8"/><circle class="r" cx="1481.5" cy="105.3" r="3.8"/><circle class="r" cx="1492" cy="105.3" r="3.8"/><circle class="r" cx="1496.3" cy="105.3" r="3.8"/><circle class="r" cx="1501.5" cy="105.3" r="3.8"/><circle class="r" cx="1504.3" cy="105.3" r="3.8"/><circle class="r" cx="1513.4" cy="105.3" r="3.8"/><circle class="r" cx="1523.4" cy="105.3" r="3.8"/><circle class="r" cx="1532.9" cy="105.3" r="3.8"/><circle class="r" cx="1546.3" cy="105.3" r="3.8"/><circle class="r" cx="1556.5" cy="105.3" r="3.8"/><circle class="r" cx="1572.5" cy="105.3" r="3.8"/><circle class="r" cx="1584.5" cy="105.3" r="3.8"/><circle class="r" cx="1622.7" cy="105.3" r="3.8"/><circle class="r" cx="1424.3" cy="109.1" r="3.8"/><circle class="r" cx="1475.4" cy="109.1" r="3.8"/><circle class="r" cx="1484.8" cy="109.1" r="3.8"/><circle class="r" cx="1492.6" cy="109.1" r="3.8"/><circle class="r" cx="1497.5" cy="109.1" r="3.8"/><circle class="r" cx="1513.2" cy="109.1" r="3.8"/><circle class="r" cx="1524.4" cy="109.1" r="3.8"/><circle class="r" cx="1529.4" cy="109.1" r="3.8"/><circle class="r" cx="1534.4" cy="109.1" r="3.8"/><circle class="r" cx="1540" cy="109.1" r="3.8"/><circle class="r" cx="1546.4" cy="109.1" r="3.8"/><circle class="r" cx="1559.5" cy="109.1" r="3.8"/><circle class="r" cx="1568.5" cy="109.1" r="3.8"/><circle class="r" cx="1581.5" cy="109.1" r="3.8"/><circle class="r" cx="1594" cy="109.1" r="3.8"/><circle class="r" cx="1634.4" cy="109.1" r="3.8"/><circle class="r" cx="1449.1" cy="112.9" r="3.8"/><circle class="r" cx="1457.8" cy="112.9" r="3.8"/><circle class="r" cx="1465.4" cy="112.9" r="3.8"/><circle class="r" cx="1478.4" cy="112.9" r="3.8"/><circle class="r" cx="1486" cy="112.9" r="3.8"/><circle class="r" cx="1495.2" cy="112.9" r="3.8"/><circle class="r" cx="1499.7" cy="112.9" r="3.8"/><circle class="r" cx="1512.4" cy="112.9" r="3.8"/><circle class="r" cx="1518.3" cy="112.9" r="3.8"/><circle class="r" cx="1533.9" cy="112.9" r="3.8"/><circle class="r" cx="1546.6" cy="112.9" r="3.8"/><circle class="r" cx="1565.5" cy="112.9" r="3.8"/><circle class="r" cx="1589.5" cy="112.9" r="3.8"/><circle class="r" cx="1608.9" cy="112.9" r="3.8"/><circle class="r" cx="1614.7" cy="112.9" r="3.8"/><circle class="r" cx="1434.3" cy="116.7" r="3.8"/><circle class="r" cx="1459.3" cy="116.7" r="3.8"/><circle class="r" cx="1482.3" cy="116.7" r="3.8"/><circle class="r" cx="1488.1" cy="116.7" r="3.8"/><circle class="r" cx="1493.6" cy="116.7" r="3.8"/><circle class="r" cx="1497.1" cy="116.7" r="3.8"/><circle class="r" cx="1502.4" cy="116.7" r="3.8"/><circle class="r" cx="1515.4" cy="116.7" r="3.8"/><circle class="r" cx="1536.8" cy="116.7" r="3.8"/><circle class="r" cx="1590.5" cy="116.7" r="3.8"/><circle class="r" cx="1604.4" cy="116.7" r="3.8"/><circle class="r" cx="1613.4" cy="116.7" r="3.8"/><circle class="r" cx="1446.8" cy="120.6" r="3.8"/><circle class="r" cx="1484" cy="120.6" r="3.8"/><circle class="r" cx="1489.3" cy="120.6" r="3.8"/><circle class="r" cx="1492.2" cy="120.6" r="3.8"/><circle class="r" cx="1523.8" cy="120.6" r="3.8"/><circle class="r" cx="1528.6" cy="120.6" r="3.8"/><circle class="r" cx="1532.1" cy="120.6" r="3.8"/><circle class="r" cx="1537.3" cy="120.6" r="3.8"/><circle class="r" cx="1541.5" cy="120.6" r="3.8"/><circle class="r" cx="1548.9" cy="120.6" r="3.8"/><circle class="r" cx="1552.2" cy="120.6" r="3.8"/><circle class="r" cx="1555.9" cy="120.6" r="3.8"/><circle class="r" cx="1558.8" cy="120.6" r="3.8"/><circle class="r" cx="1566.5" cy="120.6" r="3.8"/><circle class="r" cx="1601.9" cy="120.6" r="3.8"/><circle class="r" cx="1478.9" cy="124.4" r="3.8"/><circle class="r" cx="1490.4" cy="124.4" r="3.8"/><circle class="r" cx="1509.9" cy="124.4" r="3.8"/><circle class="r" cx="1512.4" cy="124.4" r="3.8"/><circle class="r" cx="1525.1" cy="124.4" r="3.8"/><circle class="r" cx="1534" cy="124.4" r="3.8"/><circle class="r" cx="1542.7" cy="124.4" r="3.8"/><circle class="r" cx="1551.7" cy="124.4" r="3.8"/><circle class="r" cx="1566.5" cy="124.4" r="3.8"/><circle class="r" cx="1582.5" cy="124.4" r="3.8"/><circle class="r" cx="1595.5" cy="124.4" r="3.8"/><circle class="r" cx="1602.9" cy="124.4" r="3.8"/><circle class="r" cx="1650.3" cy="124.4" r="3.8"/><circle class="r" cx="1524.2" cy="128.2" r="3.8"/><circle class="r" cx="1527" cy="128.2" r="3.8"/><circle class="r" cx="1531.3" cy="128.2" r="3.8"/><circle class="r" cx="1540.6" cy="128.2" r="3.8"/><circle class="r" cx="1552.5" cy="128.2" r="3.8"/><circle class="r" cx="1554" cy="128.2" r="3.8"/><circle class="r" cx="1562.5" cy="128.2" r="3.8"/><circle class="r" cx="1580" cy="128.2" r="3.8"/><circle class="r" cx="1591" cy="128.2" r="3.8"/><circle class="r" cx="1608.4" cy="128.2" r="3.8"/><circle class="r" cx="1471.9" cy="132.1" r="3.8"/><circle class="r" cx="1488.4" cy="132.1" r="3.8"/><circle class="r" cx="1524.3" cy="132.1" r="3.8"/><circle class="r" cx="1532.6" cy="132.1" r="3.8"/><circle class="r" cx="1540.4" cy="132.1" r="3.8"/><circle class="r" cx="1552.9" cy="132.1" r="3.8"/><circle class="r" cx="1562.5" cy="132.1" r="3.8"/><circle class="r" cx="1573.8" cy="132.1" r="3.8"/><circle class="r" cx="1577.5" cy="132.1" r="3.8"/><circle class="r" cx="1619.2" cy="132.1" r="3.8"/><circle class="r" cx="1460.4" cy="135.9" r="3.8"/><circle class="r" cx="1479.4" cy="135.9" r="3.8"/><circle class="r" cx="1486.4" cy="135.9" r="3.8"/><circle class="r" cx="1490.9" cy="135.9" r="3.8"/><circle class="r" cx="1503.9" cy="135.9" r="3.8"/><circle class="r" cx="1514.6" cy="135.9" r="3.8"/><circle class="r" cx="1521.1" cy="135.9" r="3.8"/><circle class="r" cx="1545" cy="135.9" r="3.8"/><circle class="r" cx="1554" cy="135.9" r="3.8"/><circle class="r" cx="1565.2" cy="135.9" r="3.8"/><circle class="r" cx="1574.3" cy="135.9" r="3.8"/><circle class="r" cx="1593" cy="135.9" r="3.8"/><circle class="r" cx="1475.9" cy="139.7" r="3.8"/><circle class="r" cx="1490.4" cy="139.7" r="3.8"/><circle class="r" cx="1498.4" cy="139.7" r="3.8"/><circle class="r" cx="1508.4" cy="139.7" r="3.8"/><circle class="r" cx="1519" cy="139.7" r="3.8"/><circle class="r" cx="1527.6" cy="139.7" r="3.8"/><circle class="r" cx="1539" cy="139.7" r="3.8"/><circle class="r" cx="1542.1" cy="139.7" r="3.8"/><circle class="r" cx="1550.4" cy="139.7" r="3.8"/><circle class="r" cx="1557.2" cy="139.7" r="3.8"/><circle class="r" cx="1563.3" cy="139.7" r="3.8"/><circle class="r" cx="1571.8" cy="139.7" r="3.8"/><circle class="r" cx="1578.3" cy="139.7" r="3.8"/><circle class="r" cx="1586.5" cy="139.7" r="3.8"/><circle class="r" cx="1597.5" cy="139.7" r="3.8"/><circle class="r" cx="1638.4" cy="139.7" r="3.8"/><circle class="r" cx="1453.6" cy="143.6" r="3.8"/><circle class="r" cx="1508.6" cy="143.6" r="3.8"/><circle class="r" cx="1510.9" cy="143.6" r="3.8"/><circle class="r" cx="1520.8" cy="143.6" r="3.8"/><circle class="r" cx="1525" cy="143.6" r="3.8"/><circle class="r" cx="1532.1" cy="143.6" r="3.8"/><circle class="r" cx="1537.9" cy="143.6" r="3.8"/><circle class="r" cx="1547.7" cy="143.6" r="3.8"/><circle class="r" cx="1552" cy="143.6" r="3.8"/><circle class="r" cx="1553.5" cy="143.6" r="3.8"/><circle class="r" cx="1558" cy="143.6" r="3.8"/><circle class="r" cx="1558.8" cy="143.6" r="3.8"/><circle class="r" cx="1561.1" cy="143.6" r="3.8"/><circle class="r" cx="1565.8" cy="143.6" r="3.8"/><circle class="r" cx="1576" cy="143.6" r="3.8"/><circle class="r" cx="1581.5" cy="143.6" r="3.8"/><circle class="r" cx="1587.2" cy="143.6" r="3.8"/><circle class="r" cx="1599.4" cy="143.6" r="3.8"/><circle class="r" cx="1471.2" cy="147.4" r="3.8"/><circle class="r" cx="1484.9" cy="147.4" r="3.8"/><circle class="r" cx="1504.8" cy="147.4" r="3.8"/><circle class="r" cx="1509.3" cy="147.4" r="3.8"/><circle class="r" cx="1523" cy="147.4" r="3.8"/><circle class="r" cx="1531.6" cy="147.4" r="3.8"/><circle class="r" cx="1536.8" cy="147.4" r="3.8"/><circle class="r" cx="1547.9" cy="147.4" r="3.8"/><circle class="r" cx="1553.7" cy="147.4" r="3.8"/><circle class="r" cx="1558.1" cy="147.4" r="3.8"/><circle class="r" cx="1566.3" cy="147.4" r="3.8"/><circle class="r" cx="1576.5" cy="147.4" r="3.8"/><circle class="r" cx="1581.9" cy="147.4" r="3.8"/><circle class="r" cx="1588.8" cy="147.4" r="3.8"/><circle class="r" cx="1608.4" cy="147.4" r="3.8"/><circle class="r" cx="1670.5" cy="147.4" r="3.8"/><circle class="r" cx="1499.6" cy="151.2" r="3.8"/><circle class="r" cx="1511.8" cy="151.2" r="3.8"/><circle class="r" cx="1523.8" cy="151.2" r="3.8"/><circle class="r" cx="1528.4" cy="151.2" r="3.8"/><circle class="r" cx="1532.2" cy="151.2" r="3.8"/><circle class="r" cx="1542.1" cy="151.2" r="3.8"/><circle class="r" cx="1551.6" cy="151.2" r="3.8"/><circle class="r" cx="1556.8" cy="151.2" r="3.8"/><circle class="r" cx="1566" cy="151.2" r="3.8"/><circle class="r" cx="1568.5" cy="151.2" r="3.8"/><circle class="r" cx="1576.6" cy="151.2" r="3.8"/><circle class="r" cx="1580.9" cy="151.2" r="3.8"/><circle class="r" cx="1588.2" cy="151.2" r="3.8"/><circle class="r" cx="1595.5" cy="151.2" r="3.8"/><circle class="r" cx="1609.4" cy="151.2" r="3.8"/><circle class="r" cx="1640.7" cy="151.2" r="3.8"/><circle class="r" cx="1493.4" cy="155.1" r="3.8"/><circle class="r" cx="1498.4" cy="155.1" r="3.8"/><circle class="r" cx="1504.7" cy="155.1" r="3.8"/><circle class="r" cx="1515.4" cy="155.1" r="3.8"/><circle class="r" cx="1523.8" cy="155.1" r="3.8"/><circle class="r" cx="1529.8" cy="155.1" r="3.8"/><circle class="r" cx="1533" cy="155.1" r="3.8"/><circle class="r" cx="1540.8" cy="155.1" r="3.8"/><circle class="r" cx="1546.3" cy="155.1" r="3.8"/><circle class="r" cx="1555" cy="155.1" r="3.8"/><circle class="r" cx="1564" cy="155.1" r="3.8"/><circle class="r" cx="1577.1" cy="155.1" r="3.8"/><circle class="r" cx="1586.5" cy="155.1" r="3.8"/><circle class="r" cx="1600.9" cy="155.1" r="3.8"/><circle class="r" cx="1609.2" cy="155.1" r="3.8"/><circle class="r" cx="1621.6" cy="155.1" r="3.8"/><circle class="r" cx="1644.4" cy="155.1" r="3.8"/><circle class="r" cx="1653.5" cy="155.1" r="3.8"/><circle class="r" cx="1482.4" cy="158.9" r="3.8"/><circle class="r" cx="1486.4" cy="158.9" r="3.8"/><circle class="r" cx="1495.9" cy="158.9" r="3.8"/><circle class="r" cx="1507.4" cy="158.9" r="3.8"/><circle class="r" cx="1522.4" cy="158.9" r="3.8"/><circle class="r" cx="1528.5" cy="158.9" r="3.8"/><circle class="r" cx="1536.5" cy="158.9" r="3.8"/><circle class="r" cx="1547.4" cy="158.9" r="3.8"/><circle class="r" cx="1549.1" cy="158.9" r="3.8"/><circle class="r" cx="1554.8" cy="158.9" r="3.8"/><circle class="r" cx="1561.3" cy="158.9" r="3.8"/><circle class="r" cx="1566.4" cy="158.9" r="3.8"/><circle class="r" cx="1572.5" cy="158.9" r="3.8"/><circle class="r" cx="1584.4" cy="158.9" r="3.8"/><circle class="r" cx="1602" cy="158.9" r="3.8"/><circle class="r" cx="1610.4" cy="158.9" r="3.8"/><circle class="r" cx="1617.4" cy="158.9" r="3.8"/><circle class="r" cx="1657" cy="158.9" r="3.8"/><circle class="r" cx="1482.4" cy="162.7" r="3.8"/><circle class="r" cx="1521.2" cy="162.7" r="3.8"/><circle class="r" cx="1525.3" cy="162.7" r="3.8"/><circle class="r" cx="1531.5" cy="162.7" r="3.8"/><circle class="r" cx="1538.3" cy="162.7" r="3.8"/><circle class="r" cx="1544.9" cy="162.7" r="3.8"/><circle class="r" cx="1553.2" cy="162.7" r="3.8"/><circle class="r" cx="1565.7" cy="162.7" r="3.8"/><circle class="r" cx="1570.4" cy="162.7" r="3.8"/><circle class="r" cx="1600.4" cy="162.7" r="3.8"/><circle class="r" cx="1610.4" cy="162.7" r="3.8"/><circle class="r" cx="1632.7" cy="162.7" r="3.8"/><circle class="r" cx="1719" cy="162.7" r="3.8"/><circle class="r" cx="1511.4" cy="166.5" r="3.8"/><circle class="r" cx="1522" cy="166.5" r="3.8"/><circle class="r" cx="1530.9" cy="166.5" r="3.8"/><circle class="r" cx="1542.1" cy="166.5" r="3.8"/><circle class="r" cx="1551.4" cy="166.5" r="3.8"/><circle class="r" cx="1556.7" cy="166.5" r="3.8"/><circle class="r" cx="1566.6" cy="166.5" r="3.8"/><circle class="r" cx="1578.5" cy="166.5" r="3.8"/><circle class="r" cx="1591" cy="166.5" r="3.8"/><circle class="r" cx="1520.6" cy="170.4" r="3.8"/><circle class="r" cx="1529.4" cy="170.4" r="3.8"/><circle class="r" cx="1535.4" cy="170.4" r="3.8"/><circle class="r" cx="1544" cy="170.4" r="3.8"/><circle class="r" cx="1569" cy="170.4" r="3.8"/><circle class="r" cx="1571.8" cy="170.4" r="3.8"/><circle class="r" cx="1592" cy="170.4" r="3.8"/><circle class="r" cx="1596" cy="170.4" r="3.8"/><circle class="r" cx="1639.7" cy="170.4" r="3.8"/><circle class="r" cx="1486.9" cy="174.2" r="3.8"/><circle class="r" cx="1522.4" cy="174.2" r="3.8"/><circle class="r" cx="1537.6" cy="174.2" r="3.8"/><circle class="r" cx="1549.4" cy="174.2" r="3.8"/><circle class="r" cx="1557.5" cy="174.2" r="3.8"/><circle class="r" cx="1563.4" cy="174.2" r="3.8"/><circle class="r" cx="1570.5" cy="174.2" r="3.8"/><circle class="r" cx="1593.5" cy="174.2" r="3.8"/><circle class="r" cx="1602.4" cy="174.2" r="3.8"/><circle class="r" cx="1622.6" cy="174.2" r="3.8"/><circle class="r" cx="1708" cy="174.2" r="3.8"/><circle class="r" cx="1493.4" cy="178" r="3.8"/><circle class="r" cx="1499.9" cy="178" r="3.8"/><circle class="r" cx="1528.9" cy="178" r="3.8"/><circle class="r" cx="1533.9" cy="178" r="3.8"/><circle class="r" cx="1541.7" cy="178" r="3.8"/><circle class="r" cx="1556.5" cy="178" r="3.8"/><circle class="r" cx="1584.5" cy="178" r="3.8"/><circle class="r" cx="1603.9" cy="178" r="3.8"/><circle class="r" cx="1622.6" cy="178" r="3.8"/><circle class="r" cx="1629.7" cy="178" r="3.8"/><circle class="r" cx="1537.3" cy="181.9" r="3.8"/><circle class="r" cx="1572.5" cy="181.9" r="3.8"/><circle class="r" cx="1612.9" cy="181.9" r="3.8"/><circle class="r" cx="1617.4" cy="181.9" r="3.8"/><circle class="r" cx="1642.9" cy="181.9" r="3.8"/><circle class="r" cx="1658.2" cy="181.9" r="3.8"/><circle class="r" cx="1528.5" cy="185.7" r="3.8"/><circle class="r" cx="1535.2" cy="185.7" r="3.8"/><circle class="r" cx="1538" cy="185.7" r="3.8"/><circle class="r" cx="1547.4" cy="185.7" r="3.8"/><circle class="r" cx="1572.5" cy="185.7" r="3.8"/><circle class="r" cx="1582.5" cy="185.7" r="3.8"/><circle class="r" cx="1601.4" cy="185.7" r="3.8"/><circle class="r" cx="1607.4" cy="185.7" r="3.8"/><circle class="r" cx="1634.9" cy="185.7" r="3.8"/><circle class="r" cx="1641.4" cy="185.7" r="3.8"/><circle class="r" cx="1643.4" cy="185.7" r="3.8"/><circle class="r" cx="1689" cy="185.7" r="3.8"/><circle class="r" cx="1484.2" cy="189.5" r="3.8"/><circle class="r" cx="1507.2" cy="189.5" r="3.8"/><circle class="r" cx="1526.9" cy="189.5" r="3.8"/><circle class="r" cx="1536.4" cy="189.5" r="3.8"/><circle class="r" cx="1554.4" cy="189.5" r="3.8"/><circle class="r" cx="1559.5" cy="189.5" r="3.8"/><circle class="r" cx="1587.5" cy="189.5" r="3.8"/><circle class="r" cx="1596.5" cy="189.5" r="3.8"/><circle class="r" cx="1582.5" cy="193.4" r="3.8"/><circle class="r" cx="1585.5" cy="193.4" r="3.8"/><circle class="r" cx="1600.9" cy="193.4" r="3.8"/><circle class="r" cx="1603.4" cy="193.4" r="3.8"/><circle class="r" cx="1526.7" cy="197.2" r="3.8"/><circle class="r" cx="1574" cy="197.2" r="3.8"/><circle class="r" cx="1581.5" cy="197.2" r="3.8"/><circle class="r" cx="1613.4" cy="197.2" r="3.8"/><circle class="r" cx="1616.4" cy="197.2" r="3.8"/><circle class="r" cx="1582" cy="201" r="3.8"/><circle class="r" cx="1548.4" cy="204.9" r="3.8"/><circle class="r" cx="1595.5" cy="204.9" r="3.8"/><circle class="r" cx="1653.5" cy="204.9" r="3.8"/><circle class="r" cx="1517.4" cy="208.7" r="3.8"/><circle class="r" cx="1554.4" cy="208.7" r="3.8"/><circle class="r" cx="1536.2" cy="212.5" r="3.8"/><circle class="r" cx="1565" cy="212.5" r="3.8"/><circle class="r" cx="1667.8" cy="212.5" r="3.8"/><circle class="r" cx="1515.4" cy="216.3" r="3.8"/><circle class="r" cx="1557.5" cy="216.3" r="3.8"/><circle class="r" cx="1645.4" cy="216.3" r="3.8"/><circle class="r" cx="1553.9" cy="220.2" r="3.8"/><circle class="r" cx="1557" cy="220.2" r="3.8"/><circle class="r" cx="1563.5" cy="224" r="3.8"/><circle class="r" cx="1566.5" cy="224" r="3.8"/><circle class="r" cx="1609.4" cy="224" r="3.8"/><circle class="r" cx="1586.5" cy="227.8" r="3.8"/><circle class="r" cx="1606.9" cy="231.7" r="3.8"/><circle class="r" cx="1533.9" cy="239.3" r="3.8"/><circle class="r" cx="1587" cy="243.2" r="3.8"/><circle class="r" cx="1711.2" cy="243.2" r="3.8"/><circle class="r" cx="1498.2" cy="247" r="3.8"/><circle class="r" cx="1622.2" cy="250.8" r="3.8"/><circle class="r" cx="1549.1" cy="262.3" r="3.8"/><circle class="r" cx="1580.8" cy="277.6" r="3.8"/><circle class="r" cx="1606.4" cy="296.8" r="3.8"/>
<circle class="h" cx="1424.3" cy="395.9" r="3.8"/><circle class="h" cx="1434.3" cy="392.6" r="3.8"/><circle class="h" cx="1448.3" cy="390.4" r="3.8"/><circle class="h" cx="1446.8" cy="396.4" r="3.8"/><circle class="h" cx="1446.8" cy="399.4" r="3.8"/><circle class="h" cx="1453.8" cy="384.4" r="3.8"/><circle class="h" cx="1457.8" cy="385.4" r="3.8"/><circle class="h" cx="1453.8" cy="394.4" r="3.8"/><circle class="h" cx="1453.8" cy="401.9" r="3.8"/><circle class="h" cx="1459.8" cy="390.9" r="3.8"/><circle class="h" cx="1461.8" cy="394.9" r="3.8"/><circle class="h" cx="1465.3" cy="388.4" r="3.8"/><circle class="h" cx="1471.8" cy="398.4" r="3.8"/><circle class="h" cx="1473.8" cy="400.4" r="3.8"/><circle class="h" cx="1469.8" cy="389.4" r="3.8"/><circle class="h" cx="1473.8" cy="388.4" r="3.8"/><circle class="h" cx="1477.8" cy="376.9" r="3.8"/><circle class="h" cx="1476.8" cy="385.4" r="3.8"/><circle class="h" cx="1485.8" cy="397.4" r="3.8"/><circle class="h" cx="1487.8" cy="398.9" r="3.8"/><circle class="h" cx="1482.8" cy="394.4" r="3.8"/><circle class="h" cx="1533.8" cy="393.4" r="3.8"/><circle class="h" cx="1552.8" cy="393.4" r="3.8"/><circle class="h" cx="1562.8" cy="392.4" r="3.8"/><circle class="h" cx="1588.8" cy="393.9" r="3.8"/><circle class="h" cx="1595.8" cy="397.4" r="3.8"/><circle class="h" cx="1581.8" cy="386.9" r="3.8"/><circle class="h" cx="1570.8" cy="383.4" r="3.8"/><circle class="h" cx="1498.3" cy="329.4" r="3.8"/><circle class="h" cx="1512.8" cy="332.9" r="3.8"/><circle class="h" cx="1534.8" cy="330.9" r="3.8"/><circle class="h" cx="1520.6" cy="340.4" r="3.8"/><circle class="h" cx="1552.8" cy="333.4" r="3.8"/><circle class="h" cx="1556.8" cy="335.4" r="3.8"/><circle class="h" cx="1566.8" cy="332.9" r="3.8"/><circle class="h" cx="1569.8" cy="332.4" r="3.8"/><circle class="h" cx="1572.8" cy="331.4" r="3.8"/><circle class="h" cx="1586.8" cy="329.4" r="3.8"/><circle class="h" cx="1571.8" cy="339.4" r="3.8"/><circle class="h" cx="1574.8" cy="340.4" r="3.8"/><circle class="h" cx="1581.8" cy="339.4" r="3.8"/><circle class="h" cx="1585.3" cy="338.9" r="3.8"/><circle class="h" cx="1594.8" cy="334.9" r="3.8"/><circle class="h" cx="1593.8" cy="340.4" r="3.8"/><circle class="h" cx="1547.3" cy="340.4" r="3.8"/><circle class="h" cx="1551.3" cy="342.4" r="3.8"/><circle class="h" cx="1541.3" cy="345.9" r="3.8"/><circle class="h" cx="1562.3" cy="345.4" r="3.8"/><circle class="h" cx="1585.8" cy="344.4" r="3.8"/><circle class="h" cx="1595.3" cy="348.4" r="3.8"/><circle class="h" cx="1591.8" cy="350.9" r="3.8"/><circle class="h" cx="1578.8" cy="352.4" r="3.8"/><circle class="h" cx="1495.8" cy="348.9" r="3.8"/><circle class="h" cx="1495.8" cy="353.4" r="3.8"/><circle class="h" cx="1491.8" cy="357.9" r="3.8"/><circle class="h" cx="1499.8" cy="357.4" r="3.8"/><circle class="h" cx="1512.8" cy="357.4" r="3.8"/><circle class="h" cx="1518.3" cy="360.9" r="3.8"/><circle class="h" cx="1527.3" cy="357.4" r="3.8"/><circle class="h" cx="1534.3" cy="357.4" r="3.8"/><circle class="h" cx="1538.8" cy="358.4" r="3.8"/><circle class="h" cx="1481.8" cy="367.4" r="3.8"/><circle class="h" cx="1485.8" cy="364.9" r="3.8"/><circle class="h" cx="1492.8" cy="364.4" r="3.8"/><circle class="h" cx="1500.8" cy="366.4" r="3.8"/><circle class="h" cx="1494.8" cy="369.4" r="3.8"/><circle class="h" cx="1506.8" cy="369.9" r="3.8"/><circle class="h" cx="1488.8" cy="372.4" r="3.8"/><circle class="h" cx="1499.8" cy="373.4" r="3.8"/><circle class="h" cx="1609.7" cy="394.9" r="3.8"/><circle class="h" cx="1614.7" cy="395.4" r="3.8"/><circle class="h" cx="1608.7" cy="384.4" r="3.8"/><circle class="h" cx="1610.7" cy="375.9" r="3.8"/><circle class="h" cx="1608.7" cy="372.4" r="3.8"/><circle class="h" cx="1602.7" cy="388.4" r="3.8"/><circle class="h" cx="1600.7" cy="379.4" r="3.8"/><circle class="h" cx="1603.7" cy="371.4" r="3.8"/><circle class="h" cx="1707.9" cy="329.9" r="3.8"/><circle class="h" cx="1689" cy="339.9" r="3.8"/><circle class="h" cx="1656.9" cy="342.4" r="3.8"/><circle class="h" cx="1638.4" cy="347.4" r="3.8"/><circle class="h" cx="1629" cy="333.9" r="3.8"/><circle class="h" cx="1602.7" cy="332.4" r="3.8"/><circle class="h" cx="1604.7" cy="336.9" r="3.8"/><circle class="h" cx="1613.7" cy="338.4" r="3.8"/><circle class="h" cx="1613.7" cy="340.9" r="3.8"/><circle class="h" cx="1617.5" cy="347.4" r="3.8"/><circle class="h" cx="1609.7" cy="350.4" r="3.8"/><circle class="h" cx="1602.2" cy="350.6" r="3.8"/><circle class="h" cx="1613.7" cy="359.4" r="3.8"/><circle class="h" cx="1606.2" cy="358.4" r="3.8"/><circle class="h" cx="1600.7" cy="362.4" r="3.8"/><circle class="h" cx="1604.7" cy="366.4" r="3.8"/><circle class="h" cx="1608.7" cy="367.4" r="3.8"/><circle class="h" cx="1610.7" cy="369.4" r="3.8"/><circle class="h" cx="1601.7" cy="375.4" r="3.8"/><circle class="h" cx="1605.7" cy="376.4" r="3.8"/><circle class="h" cx="1609.2" cy="293.4" r="3.8"/><circle class="h" cx="1619.2" cy="293.9" r="3.8"/><circle class="h" cx="1623.2" cy="290.4" r="3.8"/><circle class="h" cx="1641.2" cy="289.4" r="3.8"/><circle class="h" cx="1622.7" cy="299.9" r="3.8"/><circle class="h" cx="1622.7" cy="301.9" r="3.8"/><circle class="h" cx="1635" cy="304.6" r="3.8"/><circle class="h" cx="1639.7" cy="305.9" r="3.8"/><circle class="h" cx="1616.2" cy="313.6" r="3.8"/><circle class="h" cx="1653.7" cy="315.9" r="3.8"/><circle class="h" cx="1653.4" cy="322.9" r="3.8"/><circle class="h" cx="1617.2" cy="262.7" r="3.8"/><circle class="h" cx="1606.7" cy="276.1" r="3.8"/><circle class="h" cx="1670.7" cy="279.4" r="3.8"/><circle class="h" cx="1667.5" cy="282.9" r="3.8"/><circle class="h" cx="1642.7" cy="286.6" r="3.8"/><circle class="h" cx="1645.2" cy="215.4" r="3.8"/><circle class="h" cx="1651.5" cy="210.2" r="3.8"/><circle class="h" cx="1644.5" cy="223.2" r="3.8"/><circle class="h" cx="1719" cy="220.4" r="3.8"/><circle class="h" cx="1629.7" cy="236.6" r="3.8"/><circle class="h" cx="1622.2" cy="243.4" r="3.8"/><circle class="h" cx="1634.5" cy="245.9" r="3.8"/><circle class="h" cx="1711" cy="189.4" r="3.8"/><circle class="h" cx="1632.7" cy="199.7" r="3.8"/><circle class="h" cx="1604.9" cy="140.6" r="3.8"/><circle class="h" cx="1621.4" cy="144.6" r="3.8"/><circle class="h" cx="1642.7" cy="149.9" r="3.8"/><circle class="h" cx="1650.4" cy="163.9" r="3.8"/><circle class="h" cx="1602.7" cy="113.4" r="3.8"/><circle class="h" cx="1566.8" cy="289.4" r="3.8"/><circle class="h" cx="1568.1" cy="299.4" r="3.8"/><circle class="h" cx="1537.3" cy="301.7" r="3.8"/><circle class="h" cx="1589.6" cy="301.7" r="3.8"/><circle class="h" cx="1556" cy="306.6" r="3.8"/><circle class="h" cx="1562.8" cy="307.4" r="3.8"/><circle class="h" cx="1534.3" cy="316.6" r="3.8"/><circle class="h" cx="1581.8" cy="315.9" r="3.8"/><circle class="h" cx="1556" cy="316.9" r="3.8"/><circle class="h" cx="1556.5" cy="319.9" r="3.8"/><circle class="h" cx="1557.3" cy="325.9" r="3.8"/><circle class="h" cx="1550.6" cy="327.2" r="3.8"/><circle class="h" cx="1556.8" cy="333.4" r="3.8"/><circle class="h" cx="1575.3" cy="331.4" r="3.8"/><circle class="h" cx="1585.3" cy="251.4" r="3.8"/><circle class="h" cx="1575.6" cy="258.7" r="3.8"/><circle class="h" cx="1555.8" cy="270.9" r="3.8"/><circle class="h" cx="1576.8" cy="275.2" r="3.8"/><circle class="h" cx="1558.1" cy="229.2" r="3.8"/><circle class="h" cx="1490.7" cy="383.5" r="3.8"/><circle class="h" cx="1491" cy="376.9" r="3.8"/><circle class="h" cx="1485.3" cy="377.7" r="3.8"/><circle class="h" cx="1501.6" cy="382.8" r="3.8"/><circle class="h" cx="1501" cy="381.4" r="3.8"/><circle class="h" cx="1495.9" cy="380.9" r="3.8"/><circle class="h" cx="1479.4" cy="386.2" r="3.8"/><circle class="h" cx="1496.8" cy="383.4" r="3.8"/><circle class="h" cx="1479.2" cy="365.4" r="3.8"/><circle class="h" cx="1485.6" cy="375.7" r="3.8"/><circle class="h" cx="1495.2" cy="379" r="3.8"/><circle class="h" cx="1496.9" cy="374.3" r="3.8"/><circle class="h" cx="1495.2" cy="382.6" r="3.8"/><circle class="h" cx="1487.5" cy="393.1" r="3.8"/><circle class="h" cx="1497.2" cy="389" r="3.8"/><circle class="h" cx="1487.8" cy="373.5" r="3.8"/><circle class="h" cx="1490" cy="378.5" r="3.8"/><circle class="h" cx="1497.8" cy="381.4" r="3.8"/><circle class="h" cx="1489.2" cy="371.7" r="3.8"/><circle class="h" cx="1488.6" cy="389.2" r="3.8"/><circle class="h" cx="1486.3" cy="381.4" r="3.8"/><circle class="h" cx="1496.2" cy="367.5" r="3.8"/><circle class="h" cx="1493.1" cy="389.8" r="3.8"/><circle class="h" cx="1476.7" cy="376.8" r="3.8"/><circle class="h" cx="1491.9" cy="372.9" r="3.8"/><circle class="h" cx="1496.7" cy="378.9" r="3.8"/><circle class="h" cx="1481" cy="386" r="3.8"/><circle class="h" cx="1498.1" cy="387" r="3.8"/><circle class="h" cx="1504.3" cy="382.3" r="3.8"/><circle class="h" cx="1493.7" cy="369" r="3.8"/><circle class="h" cx="1497.7" cy="374.5" r="3.8"/><circle class="h" cx="1489.1" cy="369.3" r="3.8"/><circle class="h" cx="1485" cy="375.2" r="3.8"/><circle class="h" cx="1503.1" cy="363.1" r="3.8"/><circle class="h" cx="1481.1" cy="381.3" r="3.8"/><circle class="h" cx="1504.3" cy="384" r="3.8"/><circle class="h" cx="1495.6" cy="373.5" r="3.8"/><circle class="h" cx="1483.8" cy="387.2" r="3.8"/><circle class="h" cx="1501.6" cy="380.7" r="3.8"/><circle class="h" cx="1494.7" cy="382.9" r="3.8"/><circle class="h" cx="1505.5" cy="384.4" r="3.8"/><circle class="h" cx="1496.9" cy="383.8" r="3.8"/><circle class="h" cx="1480.2" cy="389.7" r="3.8"/><circle class="h" cx="1500.4" cy="383.6" r="3.8"/><circle class="h" cx="1477" cy="374.3" r="3.8"/><circle class="h" cx="1499.5" cy="364.9" r="3.8"/><circle class="h" cx="1513.8" cy="393.5" r="3.8"/><circle class="h" cx="1508.2" cy="395.8" r="3.8"/><circle class="h" cx="1517.5" cy="388.8" r="3.8"/><circle class="h" cx="1516.4" cy="392" r="3.8"/><circle class="h" cx="1515.3" cy="394" r="3.8"/><circle class="h" cx="1511.4" cy="387.7" r="3.8"/><circle class="h" cx="1520" cy="389.5" r="3.8"/><circle class="h" cx="1510.3" cy="393.2" r="3.8"/><circle class="h" cx="1522.1" cy="387.6" r="3.8"/><circle class="h" cx="1507.9" cy="388.9" r="3.8"/><circle class="h" cx="1500" cy="390.5" r="3.8"/><circle class="h" cx="1507.8" cy="388.3" r="3.8"/><circle class="h" cx="1507.1" cy="387.6" r="3.8"/><circle class="h" cx="1496.8" cy="393.3" r="3.8"/><circle class="h" cx="1506.4" cy="394" r="3.8"/><circle class="h" cx="1502.5" cy="391.8" r="3.8"/><circle class="h" cx="1501.5" cy="393.1" r="3.8"/><circle class="h" cx="1499.9" cy="392.2" r="3.8"/><circle class="h" cx="1503.6" cy="391.4" r="3.8"/><circle class="h" cx="1542.4" cy="384.4" r="3.8"/><circle class="h" cx="1554.8" cy="382.7" r="3.8"/><circle class="h" cx="1530.5" cy="377.8" r="3.8"/><circle class="h" cx="1534.6" cy="386.9" r="3.8"/><circle class="h" cx="1531.4" cy="383.1" r="3.8"/><circle class="h" cx="1553.1" cy="362.4" r="3.8"/><circle class="h" cx="1523.5" cy="382.1" r="3.8"/><circle class="h" cx="1538.7" cy="382.1" r="3.8"/><circle class="h" cx="1530.4" cy="385" r="3.8"/><circle class="h" cx="1537.6" cy="376.7" r="3.8"/><circle class="h" cx="1529.2" cy="379.7" r="3.8"/><circle class="h" cx="1532.5" cy="380" r="3.8"/><circle class="h" cx="1544.8" cy="372.2" r="3.8"/><circle class="h" cx="1534.1" cy="387.1" r="3.8"/><circle class="h" cx="1543.3" cy="390.8" r="3.8"/><circle class="h" cx="1517.7" cy="377.9" r="3.8"/><circle class="h" cx="1531.3" cy="384.8" r="3.8"/><circle class="h" cx="1545.6" cy="361.6" r="3.8"/><circle class="h" cx="1545.6" cy="370.3" r="3.8"/><circle class="h" cx="1541.6" cy="370" r="3.8"/><circle class="h" cx="1536.5" cy="388.8" r="3.8"/><circle class="h" cx="1533.2" cy="381.7" r="3.8"/><circle class="h" cx="1542.7" cy="381.4" r="3.8"/><circle class="h" cx="1533.9" cy="391.1" r="3.8"/><circle class="h" cx="1545.2" cy="378.3" r="3.8"/><circle class="h" cx="1543.9" cy="378.5" r="3.8"/><circle class="h" cx="1536.1" cy="385.3" r="3.8"/><circle class="h" cx="1537" cy="384.9" r="3.8"/><circle class="h" cx="1519.5" cy="369.8" r="3.8"/><circle class="h" cx="1540.9" cy="373.7" r="3.8"/><circle class="h" cx="1524.5" cy="370.1" r="3.8"/><circle class="h" cx="1547.4" cy="385.6" r="3.8"/><circle class="h" cx="1549.5" cy="373.8" r="3.8"/><circle class="h" cx="1534.7" cy="372.4" r="3.8"/><circle class="h" cx="1542.4" cy="391.5" r="3.8"/><circle class="h" cx="1525.8" cy="391.3" r="3.8"/><circle class="h" cx="1544.6" cy="379.2" r="3.8"/><circle class="h" cx="1515" cy="390.2" r="3.8"/><circle class="h" cx="1533.8" cy="376.2" r="3.8"/><circle class="h" cx="1538.7" cy="383.3" r="3.8"/><circle class="h" cx="1549.7" cy="373.3" r="3.8"/><circle class="h" cx="1546.1" cy="390.8" r="3.8"/><circle class="h" cx="1549.3" cy="379.1" r="3.8"/><circle class="h" cx="1527.3" cy="387.5" r="3.8"/><circle class="h" cx="1535.9" cy="381.3" r="3.8"/><circle class="h" cx="1549" cy="378.6" r="3.8"/><circle class="h" cx="1516.2" cy="386.1" r="3.8"/><circle class="h" cx="1537.9" cy="376.1" r="3.8"/><circle class="h" cx="1534.6" cy="386.2" r="3.8"/><circle class="h" cx="1535.5" cy="389.7" r="3.8"/><circle class="h" cx="1534.1" cy="387.7" r="3.8"/><circle class="h" cx="1549.6" cy="391.7" r="3.8"/><circle class="h" cx="1528" cy="386.6" r="3.8"/><circle class="h" cx="1516" cy="372.8" r="3.8"/><circle class="h" cx="1515.1" cy="387.9" r="3.8"/><circle class="h" cx="1522.4" cy="380.3" r="3.8"/><circle class="h" cx="1532.8" cy="380.2" r="3.8"/><circle class="h" cx="1528.8" cy="382" r="3.8"/><circle class="h" cx="1552.6" cy="380.7" r="3.8"/><circle class="h" cx="1540" cy="387.4" r="3.8"/><circle class="h" cx="1532.8" cy="371.6" r="3.8"/><circle class="h" cx="1529.2" cy="387.9" r="3.8"/><circle class="h" cx="1518.3" cy="376.2" r="3.8"/><circle class="h" cx="1544.8" cy="385.9" r="3.8"/><circle class="h" cx="1534.8" cy="386" r="3.8"/><circle class="h" cx="1536.4" cy="372.1" r="3.8"/><circle class="h" cx="1519.1" cy="375.9" r="3.8"/><circle class="h" cx="1544" cy="376.4" r="3.8"/><circle class="h" cx="1525.7" cy="375" r="3.8"/><circle class="h" cx="1519.4" cy="379.6" r="3.8"/><circle class="h" cx="1522.9" cy="382.9" r="3.8"/><circle class="h" cx="1528.3" cy="366.8" r="3.8"/><circle class="h" cx="1542" cy="378.5" r="3.8"/><circle class="h" cx="1537.6" cy="377.2" r="3.8"/><circle class="h" cx="1542.5" cy="385.6" r="3.8"/><circle class="h" cx="1541.4" cy="382.7" r="3.8"/><circle class="h" cx="1548.1" cy="385" r="3.8"/><circle class="h" cx="1539.2" cy="365.8" r="3.8"/><circle class="h" cx="1543.7" cy="389.6" r="3.8"/><circle class="h" cx="1531.8" cy="377.1" r="3.8"/><circle class="h" cx="1554.1" cy="368.1" r="3.8"/><circle class="h" cx="1525.5" cy="385.2" r="3.8"/><circle class="h" cx="1553.6" cy="379.6" r="3.8"/><circle class="h" cx="1540.3" cy="386.7" r="3.8"/><circle class="h" cx="1525.7" cy="379.8" r="3.8"/><circle class="h" cx="1537.7" cy="386.2" r="3.8"/><circle class="h" cx="1534.4" cy="379" r="3.8"/><circle class="h" cx="1524.6" cy="377.9" r="3.8"/><circle class="h" cx="1543.6" cy="381.1" r="3.8"/><circle class="h" cx="1526.2" cy="374.5" r="3.8"/><circle class="h" cx="1541.1" cy="362.2" r="3.8"/><circle class="h" cx="1540.9" cy="383.8" r="3.8"/><circle class="h" cx="1570.8" cy="362.2" r="3.8"/><circle class="h" cx="1560.3" cy="363.1" r="3.8"/><circle class="h" cx="1549.1" cy="367.7" r="3.8"/><circle class="h" cx="1562.7" cy="352.1" r="3.8"/><circle class="h" cx="1568.7" cy="374.7" r="3.8"/><circle class="h" cx="1552.3" cy="352.4" r="3.8"/><circle class="h" cx="1562.5" cy="360.1" r="3.8"/><circle class="h" cx="1558.3" cy="349.6" r="3.8"/><circle class="h" cx="1573.4" cy="367.7" r="3.8"/><circle class="h" cx="1553.6" cy="346.3" r="3.8"/><circle class="h" cx="1570.9" cy="367.3" r="3.8"/><circle class="h" cx="1571.6" cy="365.7" r="3.8"/><circle class="h" cx="1555.5" cy="360.7" r="3.8"/><circle class="h" cx="1547.8" cy="351.7" r="3.8"/><circle class="h" cx="1560.4" cy="363.1" r="3.8"/><circle class="h" cx="1556.4" cy="357.3" r="3.8"/><circle class="h" cx="1563.5" cy="361.8" r="3.8"/><circle class="h" cx="1564.5" cy="360.3" r="3.8"/><circle class="h" cx="1558.8" cy="365.5" r="3.8"/><circle class="h" cx="1561" cy="351" r="3.8"/><circle class="h" cx="1557" cy="358.4" r="3.8"/><circle class="h" cx="1560.1" cy="359.8" r="3.8"/><circle class="h" cx="1560.7" cy="360" r="3.8"/><circle class="h" cx="1559.9" cy="347.1" r="3.8"/><circle class="h" cx="1563.2" cy="367.9" r="3.8"/><circle class="h" cx="1563.3" cy="356.7" r="3.8"/><circle class="h" cx="1563.4" cy="349.7" r="3.8"/><circle class="h" cx="1549.4" cy="358.9" r="3.8"/><circle class="h" cx="1555.1" cy="365.1" r="3.8"/><circle class="h" cx="1554.5" cy="372.6" r="3.8"/><circle class="h" cx="1558.4" cy="346.1" r="3.8"/><circle class="h" cx="1556.1" cy="363.1" r="3.8"/><circle class="h" cx="1563.7" cy="360" r="3.8"/><circle class="h" cx="1569.6" cy="364.8" r="3.8"/><circle class="h" cx="1560.6" cy="363.8" r="3.8"/><circle class="h" cx="1570.6" cy="367.1" r="3.8"/><circle class="h" cx="1566.9" cy="348.7" r="3.8"/><circle class="h" cx="1559.8" cy="365" r="3.8"/><circle class="h" cx="1558.9" cy="368" r="3.8"/><circle class="h" cx="1564.3" cy="366.6" r="3.8"/><circle class="h" cx="1568.2" cy="356.5" r="3.8"/><circle class="h" cx="1558.7" cy="366.3" r="3.8"/><circle class="h" cx="1566.6" cy="358.5" r="3.8"/><circle class="h" cx="1553.7" cy="360.1" r="3.8"/><circle class="h" cx="1562.9" cy="368.6" r="3.8"/><circle class="h" cx="1565" cy="378.5" r="3.8"/><circle class="h" cx="1565.5" cy="381.6" r="3.8"/><circle class="h" cx="1560.4" cy="378.7" r="3.8"/><circle class="h" cx="1556.8" cy="382.5" r="3.8"/><circle class="h" cx="1550.3" cy="374.6" r="3.8"/><circle class="h" cx="1558.8" cy="369.6" r="3.8"/><circle class="h" cx="1553.3" cy="381.8" r="3.8"/><circle class="h" cx="1563.3" cy="378.1" r="3.8"/><circle class="h" cx="1556.9" cy="369.9" r="3.8"/><circle class="h" cx="1573.3" cy="381.5" r="3.8"/><circle class="h" cx="1567.5" cy="373.1" r="3.8"/><circle class="h" cx="1557.2" cy="367.5" r="3.8"/><circle class="h" cx="1565" cy="384" r="3.8"/><circle class="h" cx="1563.8" cy="367.8" r="3.8"/><circle class="h" cx="1553.7" cy="370" r="3.8"/><circle class="h" cx="1559" cy="379.9" r="3.8"/><circle class="h" cx="1563.8" cy="382.6" r="3.8"/><circle class="h" cx="1570.7" cy="385.4" r="3.8"/><circle class="h" cx="1548.2" cy="375.4" r="3.8"/><circle class="h" cx="1550.2" cy="371.9" r="3.8"/><circle class="h" cx="1558.1" cy="378.4" r="3.8"/><circle class="h" cx="1562.6" cy="368.9" r="3.8"/><circle class="h" cx="1548.8" cy="378.3" r="3.8"/><circle class="h" cx="1557.1" cy="376.5" r="3.8"/><circle class="h" cx="1558.2" cy="373.8" r="3.8"/><circle class="h" cx="1564.3" cy="380.5" r="3.8"/><circle class="h" cx="1558" cy="374.4" r="3.8"/><circle class="h" cx="1550.9" cy="378.6" r="3.8"/><circle class="h" cx="1546.7" cy="379.6" r="3.8"/><circle class="h" cx="1559.9" cy="370.1" r="3.8"/><circle class="h" cx="1556.7" cy="376.5" r="3.8"/><circle class="h" cx="1562.4" cy="382.1" r="3.8"/><circle class="h" cx="1590.3" cy="369.9" r="3.8"/><circle class="h" cx="1589" cy="377.7" r="3.8"/><circle class="h" cx="1599.5" cy="381.3" r="3.8"/><circle class="h" cx="1582" cy="364.9" r="3.8"/><circle class="h" cx="1586.2" cy="371" r="3.8"/><circle class="h" cx="1577.4" cy="377.2" r="3.8"/><circle class="h" cx="1584.8" cy="379.5" r="3.8"/><circle class="h" cx="1597" cy="374.3" r="3.8"/><circle class="h" cx="1603.9" cy="379.6" r="3.8"/><circle class="h" cx="1581.7" cy="380.9" r="3.8"/><circle class="h" cx="1594.6" cy="391.2" r="3.8"/><circle class="h" cx="1599.9" cy="387.9" r="3.8"/><circle class="h" cx="1596.8" cy="376.8" r="3.8"/><circle class="h" cx="1596.8" cy="367.6" r="3.8"/><circle class="h" cx="1604.9" cy="368.2" r="3.8"/><circle class="h" cx="1588" cy="378.6" r="3.8"/><circle class="h" cx="1604.7" cy="378.7" r="3.8"/><circle class="h" cx="1581" cy="381" r="3.8"/><circle class="h" cx="1597.7" cy="385.5" r="3.8"/><circle class="h" cx="1581.4" cy="395.9" r="3.8"/><circle class="h" cx="1610.7" cy="378.6" r="3.8"/><circle class="h" cx="1593.9" cy="374.1" r="3.8"/><circle class="h" cx="1607.7" cy="371.4" r="3.8"/><circle class="h" cx="1598.8" cy="373.6" r="3.8"/><circle class="h" cx="1582.4" cy="385.6" r="3.8"/><circle class="h" cx="1606.7" cy="378.3" r="3.8"/><circle class="h" cx="1582.6" cy="386.5" r="3.8"/><circle class="h" cx="1590.1" cy="381.5" r="3.8"/><circle class="h" cx="1609" cy="389.7" r="3.8"/><circle class="h" cx="1590.7" cy="386.3" r="3.8"/><circle class="h" cx="1582.9" cy="378" r="3.8"/><circle class="h" cx="1607.1" cy="366.2" r="3.8"/><circle class="h" cx="1572.7" cy="362.2" r="3.8"/><circle class="h" cx="1604.8" cy="373.8" r="3.8"/><circle class="h" cx="1590" cy="375.3" r="3.8"/><circle class="h" cx="1589.3" cy="367.5" r="3.8"/><circle class="h" cx="1591" cy="364" r="3.8"/><circle class="h" cx="1589.8" cy="381.5" r="3.8"/><circle class="h" cx="1596.3" cy="376.1" r="3.8"/><circle class="h" cx="1579.9" cy="380" r="3.8"/><circle class="h" cx="1584.9" cy="394.1" r="3.8"/><circle class="h" cx="1599.9" cy="377.2" r="3.8"/><circle class="h" cx="1582" cy="345.8" r="3.8"/><circle class="h" cx="1577.3" cy="348.6" r="3.8"/><circle class="h" cx="1589.7" cy="355.5" r="3.8"/><circle class="h" cx="1579.7" cy="351.5" r="3.8"/><circle class="h" cx="1581.5" cy="352.8" r="3.8"/><circle class="h" cx="1588.3" cy="354.7" r="3.8"/><circle class="h" cx="1584.3" cy="354.3" r="3.8"/><circle class="h" cx="1587.2" cy="357.6" r="3.8"/><circle class="h" cx="1586.7" cy="343.1" r="3.8"/><circle class="h" cx="1576.3" cy="356.4" r="3.8"/><circle class="h" cx="1580.2" cy="356.5" r="3.8"/><circle class="h" cx="1594.2" cy="353.9" r="3.8"/>
<circle class="u" cx="1527.9" cy="252.9" r="3.8"/><circle class="u" cx="1565.7" cy="262.2" r="3.8"/><circle class="u" cx="1653.8" cy="255" r="3.8"/><circle class="u" cx="1559.2" cy="283.6" r="3.8"/><circle class="u" cx="1570.3" cy="285.4" r="3.8"/><circle class="u" cx="1554.4" cy="286.5" r="3.8"/><circle class="u" cx="1565" cy="287.2" r="3.8"/><circle class="u" cx="1549.9" cy="290.6" r="3.8"/><circle class="u" cx="1499.2" cy="291.6" r="3.8"/><circle class="u" cx="1608.4" cy="289.6" r="3.8"/><circle class="u" cx="1650.3" cy="290.5" r="3.8"/><circle class="u" cx="1448.8" cy="303.5" r="3.8"/><circle class="u" cx="1556.5" cy="293.6" r="3.8"/><circle class="u" cx="1566.5" cy="295.2" r="3.8"/><circle class="u" cx="1582.5" cy="293.6" r="3.8"/><circle class="u" cx="1554.2" cy="299.6" r="3.8"/><circle class="u" cx="1540.4" cy="303.4" r="3.8"/><circle class="u" cx="1564" cy="305.6" r="3.8"/><circle class="u" cx="1559.5" cy="307.1" r="3.8"/><circle class="u" cx="1596.5" cy="306.7" r="3.8"/><circle class="u" cx="1592.5" cy="311.2" r="3.8"/><circle class="u" cx="1556" cy="313.4" r="3.8"/><circle class="u" cx="1589" cy="314.3" r="3.8"/><circle class="u" cx="1586.5" cy="316.3" r="3.8"/><circle class="u" cx="1478.6" cy="326" r="3.8"/><circle class="u" cx="1498.2" cy="325.3" r="3.8"/><circle class="u" cx="1504.2" cy="324.8" r="3.8"/><circle class="u" cx="1499.2" cy="330" r="3.8"/><circle class="u" cx="1530.4" cy="327.8" r="3.8"/><circle class="u" cx="1538.9" cy="326" r="3.8"/><circle class="u" cx="1546.9" cy="325.3" r="3.8"/><circle class="u" cx="1557" cy="324.3" r="3.8"/><circle class="u" cx="1557.7" cy="327.7" r="3.8"/><circle class="u" cx="1547.9" cy="329.8" r="3.8"/><circle class="u" cx="1541.4" cy="330.8" r="3.8"/><circle class="u" cx="1651.5" cy="316.4" r="3.8"/><circle class="u" cx="1602.9" cy="328.4" r="3.8"/><circle class="u" cx="1479.9" cy="332.7" r="3.8"/><circle class="u" cx="1530.4" cy="328.8" r="3.8"/><circle class="u" cx="1558" cy="328.8" r="3.8"/><circle class="u" cx="1564" cy="332" r="3.8"/><circle class="u" cx="1569.5" cy="330.5" r="3.8"/><circle class="u" cx="1576.5" cy="332" r="3.8"/><circle class="u" cx="1581.5" cy="331" r="3.8"/><circle class="u" cx="1590" cy="331.3" r="3.8"/><circle class="u" cx="1594" cy="332.5" r="3.8"/><circle class="u" cx="1516.9" cy="333" r="3.8"/><circle class="u" cx="1524.9" cy="333.5" r="3.8"/><circle class="u" cx="1526.4" cy="333.5" r="3.8"/><circle class="u" cx="1546.9" cy="333.8" r="3.8"/><circle class="u" cx="1557.5" cy="335.3" r="3.8"/><circle class="u" cx="1559" cy="336.3" r="3.8"/><circle class="u" cx="1562.5" cy="337" r="3.8"/><circle class="u" cx="1518.4" cy="336.7" r="3.8"/><circle class="u" cx="1520.9" cy="336.7" r="3.8"/><circle class="u" cx="1530.2" cy="338.4" r="3.8"/><circle class="u" cx="1500.9" cy="338.5" r="3.8"/><circle class="u" cx="1504.9" cy="337.8" r="3.8"/><circle class="u" cx="1506.4" cy="339.5" r="3.8"/><circle class="u" cx="1527.2" cy="341.3" r="3.8"/><circle class="u" cx="1528.9" cy="343.5" r="3.8"/><circle class="u" cx="1537.2" cy="341.9" r="3.8"/><circle class="u" cx="1541.4" cy="344.3" r="3.8"/><circle class="u" cx="1541.4" cy="345.3" r="3.8"/><circle class="u" cx="1550.9" cy="342.8" r="3.8"/><circle class="u" cx="1589" cy="341.3" r="3.8"/><circle class="u" cx="1574.5" cy="344.3" r="3.8"/><circle class="u" cx="1580.5" cy="344" r="3.8"/><circle class="u" cx="1586.5" cy="343.8" r="3.8"/><circle class="u" cx="1584.5" cy="346.3" r="3.8"/><circle class="u" cx="1486.9" cy="344.5" r="3.8"/><circle class="u" cx="1497.9" cy="344.5" r="3.8"/><circle class="u" cx="1490.4" cy="347.3" r="3.8"/><circle class="u" cx="1502.4" cy="347.3" r="3.8"/><circle class="u" cx="1509.9" cy="348.8" r="3.8"/><circle class="u" cx="1515.9" cy="348.4" r="3.8"/><circle class="u" cx="1543.4" cy="348.5" r="3.8"/><circle class="u" cx="1555" cy="346.5" r="3.8"/><circle class="u" cx="1562.5" cy="346.5" r="3.8"/><circle class="u" cx="1556.5" cy="349.3" r="3.8"/><circle class="u" cx="1569.5" cy="348" r="3.8"/><circle class="u" cx="1577" cy="348.5" r="3.8"/><circle class="u" cx="1638.4" cy="334" r="3.8"/><circle class="u" cx="1640.9" cy="333" r="3.8"/><circle class="u" cx="1613.4" cy="338.5" r="3.8"/><circle class="u" cx="1621.6" cy="339.5" r="3.8"/><circle class="u" cx="1606.6" cy="342.4" r="3.8"/><circle class="u" cx="1605.6" cy="344.8" r="3.8"/><circle class="u" cx="1613.9" cy="345.3" r="3.8"/><circle class="u" cx="1613.4" cy="347.8" r="3.8"/><circle class="u" cx="1629.9" cy="346.7" r="3.8"/><circle class="u" cx="1689" cy="348" r="3.8"/><circle class="u" cx="1719" cy="348.8" r="3.8"/><circle class="u" cx="1453.6" cy="348.8" r="3.8"/><circle class="u" cx="1461.7" cy="350.8" r="3.8"/><circle class="u" cx="1474.7" cy="351.2" r="3.8"/><circle class="u" cx="1471.2" cy="356.4" r="3.8"/><circle class="u" cx="1475.9" cy="363.3" r="3.8"/><circle class="u" cx="1471.4" cy="367" r="3.8"/><circle class="u" cx="1478.9" cy="367.3" r="3.8"/><circle class="u" cx="1453.6" cy="370.3" r="3.8"/><circle class="u" cx="1484.2" cy="357.3" r="3.8"/><circle class="u" cx="1483.4" cy="360" r="3.8"/><circle class="u" cx="1485.4" cy="362.5" r="3.8"/><circle class="u" cx="1489.9" cy="364.5" r="3.8"/><circle class="u" cx="1485.9" cy="367.8" r="3.8"/><circle class="u" cx="1495.4" cy="350.3" r="3.8"/><circle class="u" cx="1497.4" cy="352" r="3.8"/><circle class="u" cx="1497.9" cy="354.3" r="3.8"/><circle class="u" cx="1496.4" cy="356.3" r="3.8"/><circle class="u" cx="1499.4" cy="357.3" r="3.8"/><circle class="u" cx="1492.4" cy="359.5" r="3.8"/><circle class="u" cx="1493.9" cy="361" r="3.8"/><circle class="u" cx="1509.9" cy="353.2" r="3.8"/><circle class="u" cx="1502.9" cy="361.5" r="3.8"/><circle class="u" cx="1505.9" cy="361.3" r="3.8"/><circle class="u" cx="1501.4" cy="366" r="3.8"/><circle class="u" cx="1534.4" cy="350.3" r="3.8"/><circle class="u" cx="1548.4" cy="351.3" r="3.8"/><circle class="u" cx="1556.5" cy="350.3" r="3.8"/><circle class="u" cx="1570" cy="350.3" r="3.8"/><circle class="u" cx="1576.5" cy="350.3" r="3.8"/><circle class="u" cx="1525.4" cy="352.8" r="3.8"/><circle class="u" cx="1532.4" cy="353.8" r="3.8"/><circle class="u" cx="1536.4" cy="352.3" r="3.8"/><circle class="u" cx="1560.5" cy="352.8" r="3.8"/><circle class="u" cx="1570.5" cy="353.3" r="3.8"/><circle class="u" cx="1581.5" cy="353.5" r="3.8"/><circle class="u" cx="1583.5" cy="354" r="3.8"/><circle class="u" cx="1585" cy="354.3" r="3.8"/><circle class="u" cx="1596.5" cy="352.3" r="3.8"/><circle class="u" cx="1597.5" cy="354.3" r="3.8"/><circle class="u" cx="1520.4" cy="355.3" r="3.8"/><circle class="u" cx="1522.4" cy="356.3" r="3.8"/><circle class="u" cx="1545.4" cy="355.3" r="3.8"/><circle class="u" cx="1549.4" cy="355.8" r="3.8"/><circle class="u" cx="1554.4" cy="354.8" r="3.8"/><circle class="u" cx="1566.5" cy="355.8" r="3.8"/><circle class="u" cx="1573.5" cy="356.3" r="3.8"/><circle class="u" cx="1515.4" cy="357.8" r="3.8"/><circle class="u" cx="1531.4" cy="357.3" r="3.8"/><circle class="u" cx="1535.4" cy="358.3" r="3.8"/><circle class="u" cx="1541.4" cy="357.3" r="3.8"/><circle class="u" cx="1547.4" cy="357.8" r="3.8"/><circle class="u" cx="1562.5" cy="357.8" r="3.8"/><circle class="u" cx="1566.5" cy="358.3" r="3.8"/><circle class="u" cx="1575.5" cy="357.8" r="3.8"/><circle class="u" cx="1520.4" cy="359.5" r="3.8"/><circle class="u" cx="1530.4" cy="359.8" r="3.8"/><circle class="u" cx="1542.4" cy="359.3" r="3.8"/><circle class="u" cx="1548.4" cy="360" r="3.8"/><circle class="u" cx="1556.5" cy="359.5" r="3.8"/><circle class="u" cx="1512.4" cy="361.5" r="3.8"/><circle class="u" cx="1519.4" cy="361.3" r="3.8"/><circle class="u" cx="1524.4" cy="362" r="3.8"/><circle class="u" cx="1532.4" cy="361.3" r="3.8"/><circle class="u" cx="1537.4" cy="361.8" r="3.8"/><circle class="u" cx="1546.4" cy="361.3" r="3.8"/><circle class="u" cx="1552.4" cy="361.8" r="3.8"/><circle class="u" cx="1573.5" cy="361" r="3.8"/><circle class="u" cx="1576.5" cy="361.3" r="3.8"/><circle class="u" cx="1590.5" cy="360.8" r="3.8"/><circle class="u" cx="1521.4" cy="363.5" r="3.8"/><circle class="u" cx="1537.4" cy="363.3" r="3.8"/><circle class="u" cx="1545.4" cy="363.8" r="3.8"/><circle class="u" cx="1551.4" cy="363.3" r="3.8"/><circle class="u" cx="1591.5" cy="362.8" r="3.8"/><circle class="u" cx="1597.5" cy="363" r="3.8"/><circle class="u" cx="1546.4" cy="365" r="3.8"/><circle class="u" cx="1550.4" cy="365.3" r="3.8"/><circle class="u" cx="1564" cy="364.8" r="3.8"/><circle class="u" cx="1584.5" cy="365" r="3.8"/><circle class="u" cx="1518.4" cy="366.8" r="3.8"/><circle class="u" cx="1526.4" cy="367.3" r="3.8"/><circle class="u" cx="1536.4" cy="367" r="3.8"/><circle class="u" cx="1542.4" cy="366.8" r="3.8"/><circle class="u" cx="1551.4" cy="367" r="3.8"/><circle class="u" cx="1576.5" cy="367.3" r="3.8"/><circle class="u" cx="1590.5" cy="367" r="3.8"/><circle class="u" cx="1593.5" cy="367.5" r="3.8"/><circle class="u" cx="1667.8" cy="351.3" r="3.8"/><circle class="u" cx="1606.6" cy="351.3" r="3.8"/><circle class="u" cx="1603.4" cy="354.3" r="3.8"/><circle class="u" cx="1602.4" cy="357.3" r="3.8"/><circle class="u" cx="1609.9" cy="358.2" r="3.8"/><circle class="u" cx="1635.2" cy="358" r="3.8"/><circle class="u" cx="1632.4" cy="360" r="3.8"/><circle class="u" cx="1640.9" cy="360.9" r="3.8"/><circle class="u" cx="1658.3" cy="360.9" r="3.8"/><circle class="u" cx="1604.4" cy="362.3" r="3.8"/><circle class="u" cx="1610.4" cy="363" r="3.8"/><circle class="u" cx="1608.4" cy="364.5" r="3.8"/><circle class="u" cx="1622.7" cy="363.1" r="3.8"/><circle class="u" cx="1653.3" cy="365.7" r="3.8"/><circle class="u" cx="1657" cy="366.4" r="3.8"/><circle class="u" cx="1642.4" cy="367.5" r="3.8"/><circle class="u" cx="1434.3" cy="372.8" r="3.8"/><circle class="u" cx="1460.4" cy="372.5" r="3.8"/><circle class="u" cx="1471.4" cy="371.7" r="3.8"/><circle class="u" cx="1459.3" cy="375.3" r="3.8"/><circle class="u" cx="1469.2" cy="376" r="3.8"/><circle class="u" cx="1453.6" cy="379.7" r="3.8"/><circle class="u" cx="1446.8" cy="381.9" r="3.8"/><circle class="u" cx="1457.8" cy="383.3" r="3.8"/><circle class="u" cx="1465.4" cy="381.3" r="3.8"/><circle class="u" cx="1471.9" cy="379.5" r="3.8"/><circle class="u" cx="1478.9" cy="377.8" r="3.8"/><circle class="u" cx="1482.4" cy="380.3" r="3.8"/><circle class="u" cx="1446.8" cy="389" r="3.8"/><circle class="u" cx="1473.4" cy="386.2" r="3.8"/><circle class="u" cx="1478.9" cy="386.3" r="3.8"/><circle class="u" cx="1482.9" cy="386.5" r="3.8"/><circle class="u" cx="1489.4" cy="389.2" r="3.8"/><circle class="u" cx="1495.9" cy="389.5" r="3.8"/><circle class="u" cx="1502.4" cy="387.2" r="3.8"/><circle class="u" cx="1500.4" cy="382.8" r="3.8"/><circle class="u" cx="1506.9" cy="380.5" r="3.8"/><circle class="u" cx="1513.4" cy="379.3" r="3.8"/><circle class="u" cx="1485.4" cy="370.8" r="3.8"/><circle class="u" cx="1485.9" cy="374.3" r="3.8"/><circle class="u" cx="1489.4" cy="375.3" r="3.8"/><circle class="u" cx="1492.4" cy="376.8" r="3.8"/><circle class="u" cx="1489.4" cy="377.8" r="3.8"/><circle class="u" cx="1491.4" cy="380.5" r="3.8"/><circle class="u" cx="1494.4" cy="381" r="3.8"/><circle class="u" cx="1489.4" cy="383.3" r="3.8"/><circle class="u" cx="1494.9" cy="385.3" r="3.8"/><circle class="u" cx="1494.4" cy="386.5" r="3.8"/><circle class="u" cx="1497.4" cy="370.3" r="3.8"/><circle class="u" cx="1503.4" cy="372.5" r="3.8"/><circle class="u" cx="1506.4" cy="373.8" r="3.8"/><circle class="u" cx="1508.9" cy="372.3" r="3.8"/><circle class="u" cx="1507.4" cy="376.3" r="3.8"/><circle class="u" cx="1511.4" cy="377" r="3.8"/><circle class="u" cx="1521.4" cy="377" r="3.8"/><circle class="u" cx="1522.4" cy="372.8" r="3.8"/><circle class="u" cx="1525.4" cy="374.8" r="3.8"/><circle class="u" cx="1529.4" cy="373.3" r="3.8"/><circle class="u" cx="1532.4" cy="376.3" r="3.8"/><circle class="u" cx="1536.4" cy="377.3" r="3.8"/><circle class="u" cx="1540.4" cy="376.8" r="3.8"/><circle class="u" cx="1522.4" cy="380.3" r="3.8"/><circle class="u" cx="1527.4" cy="381.3" r="3.8"/><circle class="u" cx="1531.4" cy="382.8" r="3.8"/><circle class="u" cx="1537.4" cy="382.3" r="3.8"/><circle class="u" cx="1521.4" cy="383.8" r="3.8"/><circle class="u" cx="1525.4" cy="385.3" r="3.8"/><circle class="u" cx="1530.4" cy="385.8" r="3.8"/><circle class="u" cx="1536.4" cy="385.8" r="3.8"/><circle class="u" cx="1522.4" cy="388.3" r="3.8"/><circle class="u" cx="1527.4" cy="387.3" r="3.8"/><circle class="u" cx="1533.4" cy="388.8" r="3.8"/><circle class="u" cx="1544.4" cy="374.3" r="3.8"/><circle class="u" cx="1548.4" cy="371.3" r="3.8"/><circle class="u" cx="1552.4" cy="370.8" r="3.8"/><circle class="u" cx="1557.5" cy="372.3" r="3.8"/><circle class="u" cx="1550.4" cy="376.3" r="3.8"/><circle class="u" cx="1554.4" cy="376.8" r="3.8"/><circle class="u" cx="1551.4" cy="379.3" r="3.8"/><circle class="u" cx="1554.4" cy="381" r="3.8"/><circle class="u" cx="1557.5" cy="380.8" r="3.8"/><circle class="u" cx="1556.5" cy="383.3" r="3.8"/><circle class="u" cx="1556.5" cy="385.8" r="3.8"/><circle class="u" cx="1552.4" cy="389.3" r="3.8"/><circle class="u" cx="1556.5" cy="388.8" r="3.8"/><circle class="u" cx="1563.5" cy="374.8" r="3.8"/><circle class="u" cx="1566.5" cy="376.3" r="3.8"/><circle class="u" cx="1569.5" cy="376.8" r="3.8"/><circle class="u" cx="1562.5" cy="380.3" r="3.8"/><circle class="u" cx="1571" cy="381" r="3.8"/><circle class="u" cx="1571.5" cy="384.5" r="3.8"/><circle class="u" cx="1578.5" cy="375.3" r="3.8"/><circle class="u" cx="1578.5" cy="380.8" r="3.8"/><circle class="u" cx="1585.5" cy="378.8" r="3.8"/><circle class="u" cx="1586.5" cy="380.8" r="3.8"/><circle class="u" cx="1586.5" cy="382.5" r="3.8"/><circle class="u" cx="1577.5" cy="384.8" r="3.8"/><circle class="u" cx="1584" cy="384.8" r="3.8"/><circle class="u" cx="1581" cy="390" r="3.8"/><circle class="u" cx="1594.5" cy="373.8" r="3.8"/><circle class="u" cx="1592.5" cy="373.3" r="3.8"/><circle class="u" cx="1596" cy="374.5" r="3.8"/><circle class="u" cx="1593.5" cy="374.8" r="3.8"/><circle class="u" cx="1588.5" cy="371.3" r="3.8"/><circle class="u" cx="1513.4" cy="370.8" r="3.8"/><circle class="u" cx="1518.4" cy="370.3" r="3.8"/><circle class="u" cx="1527.4" cy="370.3" r="3.8"/><circle class="u" cx="1535.4" cy="370.8" r="3.8"/><circle class="u" cx="1541.4" cy="370.3" r="3.8"/><circle class="u" cx="1562.5" cy="370.8" r="3.8"/><circle class="u" cx="1568.5" cy="371.3" r="3.8"/><circle class="u" cx="1574.5" cy="370.8" r="3.8"/><circle class="u" cx="1582.5" cy="371" r="3.8"/><circle class="u" cx="1670.8" cy="370.7" r="3.8"/><circle class="u" cx="1711" cy="374.4" r="3.8"/><circle class="u" cx="1603.4" cy="370.8" r="3.8"/><circle class="u" cx="1617.4" cy="370.4" r="3.8"/><circle class="u" cx="1629.1" cy="370.9" r="3.8"/><circle class="u" cx="1622.9" cy="373" r="3.8"/><circle class="u" cx="1607.4" cy="373.8" r="3.8"/><circle class="u" cx="1616.4" cy="373.8" r="3.8"/><circle class="u" cx="1609.9" cy="375.8" r="3.8"/><circle class="u" cx="1617.4" cy="375.8" r="3.8"/><circle class="u" cx="1645.4" cy="373.8" r="3.8"/><circle class="u" cx="1599.4" cy="373.8" r="3.8"/><circle class="u" cx="1606.6" cy="380.2" r="3.8"/><circle class="u" cx="1614.4" cy="380.2" r="3.8"/><circle class="u" cx="1622.7" cy="379.9" r="3.8"/><circle class="u" cx="1609.4" cy="383.3" r="3.8"/><circle class="u" cx="1619.4" cy="382.9" r="3.8"/><circle class="u" cx="1600.4" cy="383" r="3.8"/><circle class="u" cx="1642.9" cy="382.3" r="3.8"/><circle class="u" cx="1639.7" cy="385.5" r="3.8"/><circle class="u" cx="1634.4" cy="389" r="3.8"/><circle class="u" cx="1608.9" cy="388.4" r="3.8"/><circle class="u" cx="1601.4" cy="388.5" r="3.8"/><circle class="u" cx="1602.9" cy="388.8" r="3.8"/><circle class="u" cx="1424.3" cy="395" r="3.8"/><circle class="u" cx="1528.9" cy="393.3" r="3.8"/><circle class="u" cx="1530.4" cy="394.5" r="3.8"/><circle class="u" cx="1532.9" cy="396.5" r="3.8"/><circle class="u" cx="1552.4" cy="392.8" r="3.8"/><circle class="u" cx="1557.5" cy="395" r="3.8"/><circle class="u" cx="1567" cy="393.5" r="3.8"/><circle class="u" cx="1583.8" cy="404.9" r="3.8"/><circle class="u" cx="1708" cy="405.9" r="3.8"/><circle class="u" cx="1519.3" cy="366.9" r="3.8"/><circle class="u" cx="1559.3" cy="360.7" r="3.8"/><circle class="u" cx="1517.4" cy="363.8" r="3.8"/><circle class="u" cx="1550" cy="372" r="3.8"/><circle class="u" cx="1519.5" cy="355.2" r="3.8"/><circle class="u" cx="1554.1" cy="367.6" r="3.8"/><circle class="u" cx="1569" cy="371.2" r="3.8"/><circle class="u" cx="1539.5" cy="362.4" r="3.8"/><circle class="u" cx="1587.7" cy="362.3" r="3.8"/><circle class="u" cx="1527.2" cy="356.3" r="3.8"/><circle class="u" cx="1543.1" cy="365.3" r="3.8"/><circle class="u" cx="1535.2" cy="363.8" r="3.8"/><circle class="u" cx="1546.3" cy="369.1" r="3.8"/><circle class="u" cx="1561.1" cy="365.7" r="3.8"/><circle class="u" cx="1509.1" cy="369.2" r="3.8"/><circle class="u" cx="1515.8" cy="363.1" r="3.8"/><circle class="u" cx="1514.8" cy="364.3" r="3.8"/><circle class="u" cx="1527.3" cy="365.8" r="3.8"/><circle class="u" cx="1556.5" cy="355" r="3.8"/><circle class="u" cx="1536.2" cy="368.9" r="3.8"/><circle class="u" cx="1539.7" cy="366.9" r="3.8"/><circle class="u" cx="1543.2" cy="357.2" r="3.8"/><circle class="u" cx="1551.5" cy="358.6" r="3.8"/><circle class="u" cx="1575.1" cy="360.7" r="3.8"/><circle class="u" cx="1553.7" cy="364.3" r="3.8"/><circle class="u" cx="1558.5" cy="360.1" r="3.8"/><circle class="u" cx="1559.4" cy="363.4" r="3.8"/><circle class="u" cx="1564.1" cy="368.6" r="3.8"/><circle class="u" cx="1543.9" cy="358.8" r="3.8"/><circle class="u" cx="1555.2" cy="367.6" r="3.8"/><circle class="u" cx="1570.9" cy="361.6" r="3.8"/><circle class="u" cx="1551.4" cy="367.8" r="3.8"/><circle class="u" cx="1546.5" cy="365.7" r="3.8"/><circle class="u" cx="1544.6" cy="360.1" r="3.8"/><circle class="u" cx="1523.1" cy="361.5" r="3.8"/><circle class="u" cx="1552" cy="374.9" r="3.8"/><circle class="u" cx="1559" cy="371.7" r="3.8"/><circle class="u" cx="1555.4" cy="369.2" r="3.8"/><circle class="u" cx="1544.7" cy="369.7" r="3.8"/><circle class="u" cx="1573.3" cy="362" r="3.8"/><circle class="u" cx="1521.8" cy="389.1" r="3.8"/><circle class="u" cx="1529.3" cy="384.1" r="3.8"/><circle class="u" cx="1534.4" cy="373.6" r="3.8"/><circle class="u" cx="1546.8" cy="388.2" r="3.8"/><circle class="u" cx="1528.8" cy="383" r="3.8"/><circle class="u" cx="1528.4" cy="374.9" r="3.8"/><circle class="u" cx="1526.5" cy="381.2" r="3.8"/><circle class="u" cx="1536.3" cy="382.8" r="3.8"/><circle class="u" cx="1527.8" cy="386.1" r="3.8"/><circle class="u" cx="1521.3" cy="383.3" r="3.8"/><circle class="u" cx="1536.3" cy="377.8" r="3.8"/><circle class="u" cx="1513" cy="374.8" r="3.8"/><circle class="u" cx="1529.3" cy="381.9" r="3.8"/><circle class="u" cx="1539.8" cy="374.3" r="3.8"/><circle class="u" cx="1527.4" cy="382.5" r="3.8"/><circle class="u" cx="1535.4" cy="374.7" r="3.8"/><circle class="u" cx="1560.3" cy="375.2" r="3.8"/><circle class="u" cx="1589.3" cy="376.8" r="3.8"/><circle class="u" cx="1565.5" cy="380.5" r="3.8"/><circle class="u" cx="1563.6" cy="381.7" r="3.8"/><circle class="u" cx="1557.5" cy="372.4" r="3.8"/><circle class="u" cx="1571.6" cy="380" r="3.8"/><circle class="u" cx="1570.9" cy="375.5" r="3.8"/><circle class="u" cx="1546.2" cy="371.4" r="3.8"/><circle class="u" cx="1558.3" cy="372.1" r="3.8"/><circle class="u" cx="1570.2" cy="372.9" r="3.8"/><circle class="u" cx="1572.3" cy="374.6" r="3.8"/><circle class="u" cx="1561" cy="374.8" r="3.8"/><circle class="u" cx="1568.7" cy="377.7" r="3.8"/><circle class="u" cx="1559.6" cy="373.4" r="3.8"/><circle class="u" cx="1550.7" cy="380.7" r="3.8"/><circle class="u" cx="1578.9" cy="373.6" r="3.8"/><circle class="u" cx="1490.6" cy="369.3" r="3.8"/><circle class="u" cx="1497" cy="375.1" r="3.8"/><circle class="u" cx="1509.4" cy="375" r="3.8"/><circle class="u" cx="1479.2" cy="375" r="3.8"/><circle class="u" cx="1506.5" cy="376.6" r="3.8"/><circle class="u" cx="1494.1" cy="368.1" r="3.8"/><circle class="u" cx="1486.3" cy="379.2" r="3.8"/><circle class="u" cx="1511.8" cy="369.6" r="3.8"/><circle class="u" cx="1480" cy="377.8" r="3.8"/><circle class="u" cx="1503.9" cy="370.3" r="3.8"/><circle class="u" cx="1488.4" cy="371.5" r="3.8"/><circle class="u" cx="1483.4" cy="371.6" r="3.8"/>
<text class="t" text-anchor="end" transform="translate(1397.7 414.2) scale(.92 1)">0</text>
<text class="t" text-anchor="end" transform="translate(1397.7 337.6) scale(.92 1)">20</text>
<text class="t" text-anchor="end" transform="translate(1397.7 261) scale(.92 1)">40</text>
<text class="t" text-anchor="end" transform="translate(1397.7 184.3) scale(.92 1)">60</text>
<text class="t" text-anchor="end" transform="translate(1397.7 107.7) scale(.92 1)">80</text>
<text class="t" text-anchor="end" transform="translate(1397.7 31.1) scale(.92 1)">100</text>
<text class="t" transform="translate(1814.9 414.3) scale(.92 1)">0</text>
<text class="t" transform="translate(1814.9 318.5) scale(.92 1)">2</text>
<text class="t" transform="translate(1814.9 222.7) scale(.92 1)">4</text>
<text class="t" transform="translate(1814.9 127) scale(.92 1)">6</text>
<text class="t" transform="translate(1814.9 31.2) scale(.92 1)">8</text>
<text class="t" text-anchor="middle" transform="translate(1412.7 443.2) scale(.92 1)">0</text>
<text class="t" text-anchor="middle" transform="translate(1508.6 443.2) scale(.92 1)">5</text>
<text class="t" text-anchor="middle" transform="translate(1604.5 443.2) scale(.92 1)">10</text>
<text class="t" text-anchor="middle" transform="translate(1700.4 443.2) scale(.92 1)">15</text>
<text class="t" text-anchor="middle" transform="translate(1796.3 443.2) scale(.92 1)">20</text>
<text class="ax" text-anchor="middle" transform="translate(1605.4 480.3) scale(.92 1.03)">FMD (%)</text>
<text class="ax" text-anchor="middle" transform="translate(1348.3 218.4) rotate(-90) scale(1.035 1)">Age (Years)</text>
<text class="ax" text-anchor="middle" transform="translate(1866.2 218.4) rotate(-90) scale(.976 1.02)">Relative level</text>
<text class="pl" transform="translate(1300.7 39.6) scale(0.95 1.04)">C</text>
<circle cx="1446.8" cy="10.1" r="4" stroke="#ff0000" stroke-width="1.25"/>
<text class="lg" style="letter-spacing:-.45px" x="1490" y="15.3">Age</text>
<circle cx="1546.5" cy="10.9" r="4" stroke="#1f4788" stroke-width="1.25"/>
<text class="lg" transform="translate(1590.1 16.6) scale(1.02 1)">leu-TL</text>
<circle cx="1666.2" cy="10.9" r="4" stroke="#22962a" stroke-width="1.25"/>
<text class="lg" transform="translate(1709.3 16.6) scale(1.02 1)">leu-mtDNA</text>
</g>
</svg></body></html>
